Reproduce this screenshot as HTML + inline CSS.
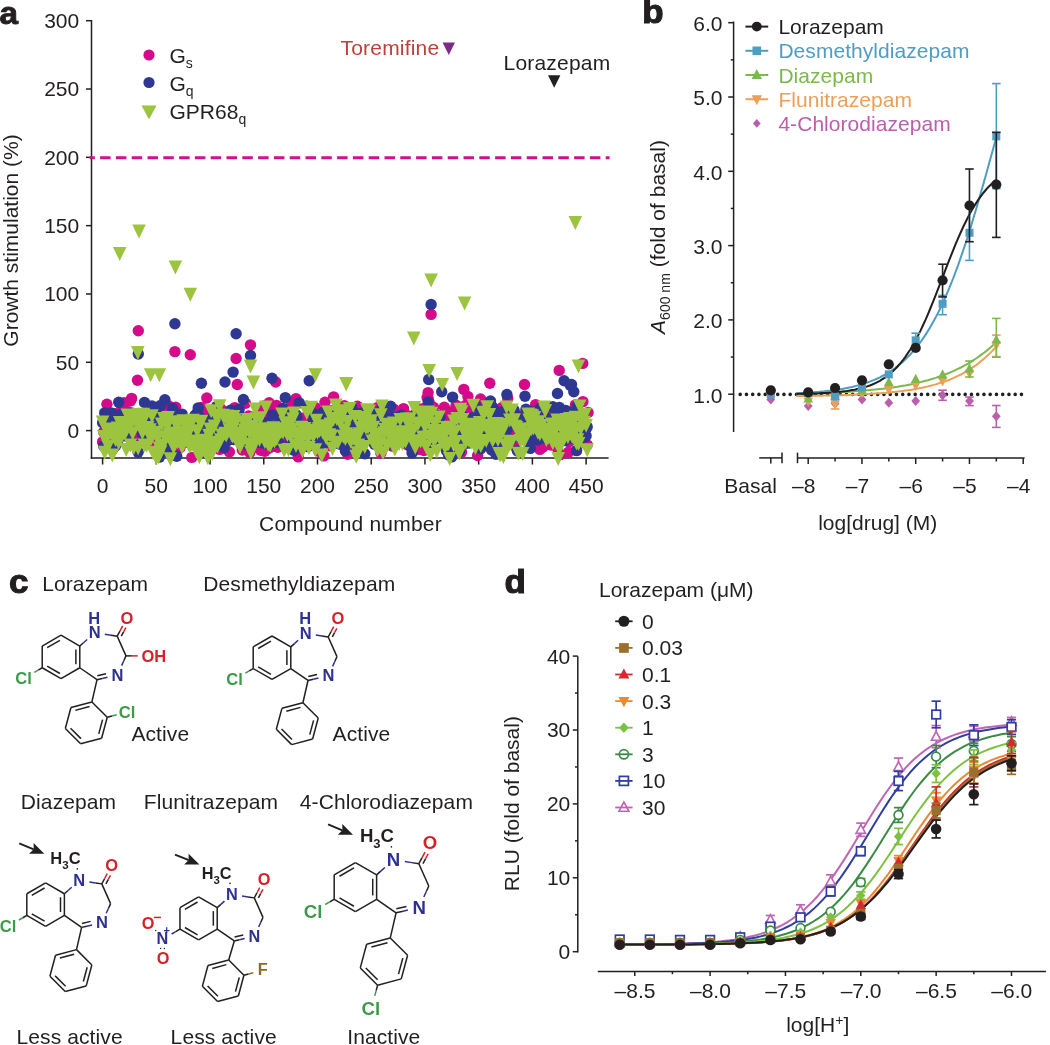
<!DOCTYPE html>
<html><head><meta charset="utf-8"><style>
html,body{margin:0;padding:0;background:#fff;}
svg{display:block;font-family:"Liberation Sans", sans-serif;will-change:transform;}
</style></head><body>
<svg width="1050" height="1045" viewBox="0 0 1050 1045">
<rect width="1050" height="1045" fill="#fff"/>
<text x="-0.6" y="23.5" font-size="32" text-anchor="start" fill="#231f20" font-weight="bold" stroke="#231f20" stroke-width="0.9" transform="scale(1.04,1)">a</text>
<line x1="91.50" y1="20.00" x2="91.50" y2="458.75" stroke="#231f20" stroke-width="1.5" />
<line x1="90.75" y1="458.00" x2="608.60" y2="458.00" stroke="#231f20" stroke-width="1.5" />
<line x1="86.00" y1="430.60" x2="91.50" y2="430.60" stroke="#231f20" stroke-width="1.5" />
<text x="79.2" y="438.0" font-size="21" text-anchor="end" fill="#231f20" font-weight="normal" >0</text>
<line x1="86.00" y1="362.29" x2="91.50" y2="362.29" stroke="#231f20" stroke-width="1.5" />
<text x="79.2" y="369.7" font-size="21" text-anchor="end" fill="#231f20" font-weight="normal" >50</text>
<line x1="86.00" y1="293.97" x2="91.50" y2="293.97" stroke="#231f20" stroke-width="1.5" />
<text x="79.2" y="301.4" font-size="21" text-anchor="end" fill="#231f20" font-weight="normal" >100</text>
<line x1="86.00" y1="225.66" x2="91.50" y2="225.66" stroke="#231f20" stroke-width="1.5" />
<text x="79.2" y="233.1" font-size="21" text-anchor="end" fill="#231f20" font-weight="normal" >150</text>
<line x1="86.00" y1="157.34" x2="91.50" y2="157.34" stroke="#231f20" stroke-width="1.5" />
<text x="79.2" y="164.7" font-size="21" text-anchor="end" fill="#231f20" font-weight="normal" >200</text>
<line x1="86.00" y1="89.02" x2="91.50" y2="89.02" stroke="#231f20" stroke-width="1.5" />
<text x="79.2" y="96.4" font-size="21" text-anchor="end" fill="#231f20" font-weight="normal" >250</text>
<line x1="86.00" y1="20.71" x2="91.50" y2="20.71" stroke="#231f20" stroke-width="1.5" />
<text x="79.2" y="28.1" font-size="21" text-anchor="end" fill="#231f20" font-weight="normal" >300</text>
<line x1="102.60" y1="458.00" x2="102.60" y2="464.50" stroke="#231f20" stroke-width="1.5" />
<text x="102.6" y="492.8" font-size="21" text-anchor="middle" fill="#231f20" font-weight="normal" >0</text>
<line x1="156.32" y1="458.00" x2="156.32" y2="464.50" stroke="#231f20" stroke-width="1.5" />
<text x="156.3" y="492.8" font-size="21" text-anchor="middle" fill="#231f20" font-weight="normal" >50</text>
<line x1="210.05" y1="458.00" x2="210.05" y2="464.50" stroke="#231f20" stroke-width="1.5" />
<text x="210.1" y="492.8" font-size="21" text-anchor="middle" fill="#231f20" font-weight="normal" >100</text>
<line x1="263.77" y1="458.00" x2="263.77" y2="464.50" stroke="#231f20" stroke-width="1.5" />
<text x="263.8" y="492.8" font-size="21" text-anchor="middle" fill="#231f20" font-weight="normal" >150</text>
<line x1="317.50" y1="458.00" x2="317.50" y2="464.50" stroke="#231f20" stroke-width="1.5" />
<text x="317.5" y="492.8" font-size="21" text-anchor="middle" fill="#231f20" font-weight="normal" >200</text>
<line x1="371.23" y1="458.00" x2="371.23" y2="464.50" stroke="#231f20" stroke-width="1.5" />
<text x="371.2" y="492.8" font-size="21" text-anchor="middle" fill="#231f20" font-weight="normal" >250</text>
<line x1="424.95" y1="458.00" x2="424.95" y2="464.50" stroke="#231f20" stroke-width="1.5" />
<text x="425.0" y="492.8" font-size="21" text-anchor="middle" fill="#231f20" font-weight="normal" >300</text>
<line x1="478.67" y1="458.00" x2="478.67" y2="464.50" stroke="#231f20" stroke-width="1.5" />
<text x="478.7" y="492.8" font-size="21" text-anchor="middle" fill="#231f20" font-weight="normal" >350</text>
<line x1="532.40" y1="458.00" x2="532.40" y2="464.50" stroke="#231f20" stroke-width="1.5" />
<text x="532.4" y="492.8" font-size="21" text-anchor="middle" fill="#231f20" font-weight="normal" >400</text>
<line x1="586.12" y1="458.00" x2="586.12" y2="464.50" stroke="#231f20" stroke-width="1.5" />
<text x="586.1" y="492.8" font-size="21" text-anchor="middle" fill="#231f20" font-weight="normal" >450</text>
<text x="350.5" y="530.5" font-size="21" text-anchor="middle" fill="#231f20" font-weight="normal" letter-spacing="0.2">Compound number</text>
<text x="0.0" y="0.0" font-size="21" text-anchor="middle" fill="#231f20" font-weight="normal" transform="translate(17.9,240.5) rotate(-90)">Growth stimulation (%)</text>
<line x1="89.70" y1="157.80" x2="609.60" y2="157.80" stroke="#cf1190" stroke-width="3" stroke-dasharray="10.5 5.3" stroke-dashoffset="5.4"/>
<g fill="#d40a8a"><circle cx="102.6" cy="441.9" r="5.7"/><circle cx="103.7" cy="432.1" r="5.7"/><circle cx="104.7" cy="418.6" r="5.7"/><circle cx="105.8" cy="442.8" r="5.7"/><circle cx="106.9" cy="404.2" r="5.7"/><circle cx="108.0" cy="428.9" r="5.7"/><circle cx="109.0" cy="440.7" r="5.7"/><circle cx="110.1" cy="429.8" r="5.7"/><circle cx="111.2" cy="415.7" r="5.7"/><circle cx="112.3" cy="449.6" r="5.7"/><circle cx="113.3" cy="427.5" r="5.7"/><circle cx="114.4" cy="435.8" r="5.7"/><circle cx="115.5" cy="413.6" r="5.7"/><circle cx="116.6" cy="416.1" r="5.7"/><circle cx="117.6" cy="423.7" r="5.7"/><circle cx="118.7" cy="436.2" r="5.7"/><circle cx="119.8" cy="415.8" r="5.7"/><circle cx="120.9" cy="433.4" r="5.7"/><circle cx="121.9" cy="407.9" r="5.7"/><circle cx="123.0" cy="435.8" r="5.7"/><circle cx="124.1" cy="402.7" r="5.7"/><circle cx="125.2" cy="418.2" r="5.7"/><circle cx="126.2" cy="422.6" r="5.7"/><circle cx="127.3" cy="430.6" r="5.7"/><circle cx="128.4" cy="411.8" r="5.7"/><circle cx="129.5" cy="415.6" r="5.7"/><circle cx="130.5" cy="400.9" r="5.7"/><circle cx="131.6" cy="398.4" r="5.7"/><circle cx="132.7" cy="413.2" r="5.7"/><circle cx="133.8" cy="414.9" r="5.7"/><circle cx="134.8" cy="426.7" r="5.7"/><circle cx="135.9" cy="415.4" r="5.7"/><circle cx="137.0" cy="435.5" r="5.7"/><circle cx="138.1" cy="429.1" r="5.7"/><circle cx="139.1" cy="421.9" r="5.7"/><circle cx="140.2" cy="438.9" r="5.7"/><circle cx="141.3" cy="427.3" r="5.7"/><circle cx="142.4" cy="437.7" r="5.7"/><circle cx="143.4" cy="416.7" r="5.7"/><circle cx="144.5" cy="426.3" r="5.7"/><circle cx="145.6" cy="431.6" r="5.7"/><circle cx="146.7" cy="416.2" r="5.7"/><circle cx="147.7" cy="433.5" r="5.7"/><circle cx="148.8" cy="429.7" r="5.7"/><circle cx="149.9" cy="429.7" r="5.7"/><circle cx="151.0" cy="413.4" r="5.7"/><circle cx="152.0" cy="443.8" r="5.7"/><circle cx="153.1" cy="427.6" r="5.7"/><circle cx="154.2" cy="422.8" r="5.7"/><circle cx="155.3" cy="435.8" r="5.7"/><circle cx="156.3" cy="447.1" r="5.7"/><circle cx="157.4" cy="409.8" r="5.7"/><circle cx="158.5" cy="454.4" r="5.7"/><circle cx="159.5" cy="417.0" r="5.7"/><circle cx="160.6" cy="408.5" r="5.7"/><circle cx="161.7" cy="446.1" r="5.7"/><circle cx="162.8" cy="438.6" r="5.7"/><circle cx="163.8" cy="441.4" r="5.7"/><circle cx="164.9" cy="415.7" r="5.7"/><circle cx="166.0" cy="427.0" r="5.7"/><circle cx="167.1" cy="443.1" r="5.7"/><circle cx="168.1" cy="405.5" r="5.7"/><circle cx="169.2" cy="421.7" r="5.7"/><circle cx="170.3" cy="430.2" r="5.7"/><circle cx="171.4" cy="445.4" r="5.7"/><circle cx="172.4" cy="431.6" r="5.7"/><circle cx="173.5" cy="417.2" r="5.7"/><circle cx="174.6" cy="452.0" r="5.7"/><circle cx="175.7" cy="407.2" r="5.7"/><circle cx="176.7" cy="414.7" r="5.7"/><circle cx="177.8" cy="434.3" r="5.7"/><circle cx="178.9" cy="414.6" r="5.7"/><circle cx="180.0" cy="447.8" r="5.7"/><circle cx="181.0" cy="416.9" r="5.7"/><circle cx="182.1" cy="422.0" r="5.7"/><circle cx="183.2" cy="436.5" r="5.7"/><circle cx="184.3" cy="426.8" r="5.7"/><circle cx="185.3" cy="422.4" r="5.7"/><circle cx="186.4" cy="442.3" r="5.7"/><circle cx="187.5" cy="424.3" r="5.7"/><circle cx="188.6" cy="420.3" r="5.7"/><circle cx="189.6" cy="421.9" r="5.7"/><circle cx="190.7" cy="438.8" r="5.7"/><circle cx="191.8" cy="457.4" r="5.7"/><circle cx="192.9" cy="433.6" r="5.7"/><circle cx="193.9" cy="424.1" r="5.7"/><circle cx="195.0" cy="426.9" r="5.7"/><circle cx="196.1" cy="440.8" r="5.7"/><circle cx="197.2" cy="444.1" r="5.7"/><circle cx="198.2" cy="428.4" r="5.7"/><circle cx="199.3" cy="414.8" r="5.7"/><circle cx="200.4" cy="446.4" r="5.7"/><circle cx="201.5" cy="407.4" r="5.7"/><circle cx="202.5" cy="430.4" r="5.7"/><circle cx="203.6" cy="429.6" r="5.7"/><circle cx="204.7" cy="442.0" r="5.7"/><circle cx="205.8" cy="448.7" r="5.7"/><circle cx="206.8" cy="398.0" r="5.7"/><circle cx="207.9" cy="412.3" r="5.7"/><circle cx="209.0" cy="432.4" r="5.7"/><circle cx="210.1" cy="423.3" r="5.7"/><circle cx="211.1" cy="433.1" r="5.7"/><circle cx="212.2" cy="420.2" r="5.7"/><circle cx="213.3" cy="427.4" r="5.7"/><circle cx="214.3" cy="410.1" r="5.7"/><circle cx="215.4" cy="427.0" r="5.7"/><circle cx="216.5" cy="430.6" r="5.7"/><circle cx="217.6" cy="437.9" r="5.7"/><circle cx="218.6" cy="430.2" r="5.7"/><circle cx="219.7" cy="449.4" r="5.7"/><circle cx="220.8" cy="408.8" r="5.7"/><circle cx="221.9" cy="429.2" r="5.7"/><circle cx="222.9" cy="427.7" r="5.7"/><circle cx="224.0" cy="428.3" r="5.7"/><circle cx="225.1" cy="439.8" r="5.7"/><circle cx="226.2" cy="429.8" r="5.7"/><circle cx="227.2" cy="433.4" r="5.7"/><circle cx="228.3" cy="415.0" r="5.7"/><circle cx="229.4" cy="452.0" r="5.7"/><circle cx="230.5" cy="418.3" r="5.7"/><circle cx="231.5" cy="428.4" r="5.7"/><circle cx="232.6" cy="421.8" r="5.7"/><circle cx="233.7" cy="436.3" r="5.7"/><circle cx="234.8" cy="407.6" r="5.7"/><circle cx="235.8" cy="413.7" r="5.7"/><circle cx="236.9" cy="439.5" r="5.7"/><circle cx="238.0" cy="415.2" r="5.7"/><circle cx="239.1" cy="419.7" r="5.7"/><circle cx="240.1" cy="438.0" r="5.7"/><circle cx="241.2" cy="419.0" r="5.7"/><circle cx="242.3" cy="450.0" r="5.7"/><circle cx="243.4" cy="437.4" r="5.7"/><circle cx="244.4" cy="419.6" r="5.7"/><circle cx="245.5" cy="403.2" r="5.7"/><circle cx="246.6" cy="418.1" r="5.7"/><circle cx="247.7" cy="432.0" r="5.7"/><circle cx="248.7" cy="416.0" r="5.7"/><circle cx="249.8" cy="452.5" r="5.7"/><circle cx="250.9" cy="448.1" r="5.7"/><circle cx="252.0" cy="425.5" r="5.7"/><circle cx="253.0" cy="422.2" r="5.7"/><circle cx="254.1" cy="430.4" r="5.7"/><circle cx="255.2" cy="421.4" r="5.7"/><circle cx="256.3" cy="419.7" r="5.7"/><circle cx="257.3" cy="447.7" r="5.7"/><circle cx="258.4" cy="411.6" r="5.7"/><circle cx="259.5" cy="426.9" r="5.7"/><circle cx="260.6" cy="450.2" r="5.7"/><circle cx="261.6" cy="426.1" r="5.7"/><circle cx="262.7" cy="417.4" r="5.7"/><circle cx="263.8" cy="405.9" r="5.7"/><circle cx="264.8" cy="451.2" r="5.7"/><circle cx="265.9" cy="438.3" r="5.7"/><circle cx="267.0" cy="427.8" r="5.7"/><circle cx="268.1" cy="448.8" r="5.7"/><circle cx="269.1" cy="402.7" r="5.7"/><circle cx="270.2" cy="447.1" r="5.7"/><circle cx="271.3" cy="426.0" r="5.7"/><circle cx="272.4" cy="412.2" r="5.7"/><circle cx="273.4" cy="437.4" r="5.7"/><circle cx="274.5" cy="431.4" r="5.7"/><circle cx="275.6" cy="440.1" r="5.7"/><circle cx="276.7" cy="405.5" r="5.7"/><circle cx="277.7" cy="447.2" r="5.7"/><circle cx="278.8" cy="441.9" r="5.7"/><circle cx="279.9" cy="411.3" r="5.7"/><circle cx="281.0" cy="429.6" r="5.7"/><circle cx="282.0" cy="440.6" r="5.7"/><circle cx="283.1" cy="428.8" r="5.7"/><circle cx="284.2" cy="423.1" r="5.7"/><circle cx="285.3" cy="438.4" r="5.7"/><circle cx="286.3" cy="416.9" r="5.7"/><circle cx="287.4" cy="411.2" r="5.7"/><circle cx="288.5" cy="411.7" r="5.7"/><circle cx="289.6" cy="428.2" r="5.7"/><circle cx="290.6" cy="435.0" r="5.7"/><circle cx="291.7" cy="403.9" r="5.7"/><circle cx="292.8" cy="425.0" r="5.7"/><circle cx="293.9" cy="406.1" r="5.7"/><circle cx="294.9" cy="425.2" r="5.7"/><circle cx="296.0" cy="398.6" r="5.7"/><circle cx="297.1" cy="418.5" r="5.7"/><circle cx="298.2" cy="456.9" r="5.7"/><circle cx="299.2" cy="440.3" r="5.7"/><circle cx="300.3" cy="430.5" r="5.7"/><circle cx="301.4" cy="435.7" r="5.7"/><circle cx="302.5" cy="432.1" r="5.7"/><circle cx="303.5" cy="418.0" r="5.7"/><circle cx="304.6" cy="437.5" r="5.7"/><circle cx="305.7" cy="441.7" r="5.7"/><circle cx="306.8" cy="435.2" r="5.7"/><circle cx="307.8" cy="421.0" r="5.7"/><circle cx="308.9" cy="416.7" r="5.7"/><circle cx="310.0" cy="441.4" r="5.7"/><circle cx="311.1" cy="434.0" r="5.7"/><circle cx="312.1" cy="439.3" r="5.7"/><circle cx="313.2" cy="427.0" r="5.7"/><circle cx="314.3" cy="429.6" r="5.7"/><circle cx="315.4" cy="407.6" r="5.7"/><circle cx="316.4" cy="431.2" r="5.7"/><circle cx="317.5" cy="422.1" r="5.7"/><circle cx="318.6" cy="451.2" r="5.7"/><circle cx="319.6" cy="418.2" r="5.7"/><circle cx="320.7" cy="434.5" r="5.7"/><circle cx="321.8" cy="420.3" r="5.7"/><circle cx="322.9" cy="433.0" r="5.7"/><circle cx="323.9" cy="455.9" r="5.7"/><circle cx="325.0" cy="402.3" r="5.7"/><circle cx="326.1" cy="422.4" r="5.7"/><circle cx="327.2" cy="429.7" r="5.7"/><circle cx="328.2" cy="430.5" r="5.7"/><circle cx="329.3" cy="415.0" r="5.7"/><circle cx="330.4" cy="445.9" r="5.7"/><circle cx="331.5" cy="438.9" r="5.7"/><circle cx="332.5" cy="420.1" r="5.7"/><circle cx="333.6" cy="396.9" r="5.7"/><circle cx="334.7" cy="432.7" r="5.7"/><circle cx="335.8" cy="430.8" r="5.7"/><circle cx="336.8" cy="436.7" r="5.7"/><circle cx="337.9" cy="433.8" r="5.7"/><circle cx="339.0" cy="416.9" r="5.7"/><circle cx="340.1" cy="420.2" r="5.7"/><circle cx="341.1" cy="440.2" r="5.7"/><circle cx="342.2" cy="417.0" r="5.7"/><circle cx="343.3" cy="422.8" r="5.7"/><circle cx="344.4" cy="405.7" r="5.7"/><circle cx="345.4" cy="429.8" r="5.7"/><circle cx="346.5" cy="420.3" r="5.7"/><circle cx="347.6" cy="454.3" r="5.7"/><circle cx="348.7" cy="411.1" r="5.7"/><circle cx="349.7" cy="433.4" r="5.7"/><circle cx="350.8" cy="448.2" r="5.7"/><circle cx="351.9" cy="417.5" r="5.7"/><circle cx="353.0" cy="442.1" r="5.7"/><circle cx="354.0" cy="446.2" r="5.7"/><circle cx="355.1" cy="415.8" r="5.7"/><circle cx="356.2" cy="444.8" r="5.7"/><circle cx="357.3" cy="406.3" r="5.7"/><circle cx="358.3" cy="428.3" r="5.7"/><circle cx="359.4" cy="431.9" r="5.7"/><circle cx="360.5" cy="431.0" r="5.7"/><circle cx="361.6" cy="411.3" r="5.7"/><circle cx="362.6" cy="420.9" r="5.7"/><circle cx="363.7" cy="423.7" r="5.7"/><circle cx="364.8" cy="419.4" r="5.7"/><circle cx="365.9" cy="418.8" r="5.7"/><circle cx="366.9" cy="416.4" r="5.7"/><circle cx="368.0" cy="433.2" r="5.7"/><circle cx="369.1" cy="414.9" r="5.7"/><circle cx="370.2" cy="431.6" r="5.7"/><circle cx="371.2" cy="439.4" r="5.7"/><circle cx="372.3" cy="431.5" r="5.7"/><circle cx="373.4" cy="424.1" r="5.7"/><circle cx="374.4" cy="437.9" r="5.7"/><circle cx="375.5" cy="431.5" r="5.7"/><circle cx="376.6" cy="409.7" r="5.7"/><circle cx="377.7" cy="407.5" r="5.7"/><circle cx="378.7" cy="420.7" r="5.7"/><circle cx="379.8" cy="415.6" r="5.7"/><circle cx="380.9" cy="453.2" r="5.7"/><circle cx="382.0" cy="411.4" r="5.7"/><circle cx="383.0" cy="424.9" r="5.7"/><circle cx="384.1" cy="415.7" r="5.7"/><circle cx="385.2" cy="431.2" r="5.7"/><circle cx="386.3" cy="407.7" r="5.7"/><circle cx="387.3" cy="434.2" r="5.7"/><circle cx="388.4" cy="420.0" r="5.7"/><circle cx="389.5" cy="433.4" r="5.7"/><circle cx="390.6" cy="411.0" r="5.7"/><circle cx="391.6" cy="414.2" r="5.7"/><circle cx="392.7" cy="446.3" r="5.7"/><circle cx="393.8" cy="409.1" r="5.7"/><circle cx="394.9" cy="416.6" r="5.7"/><circle cx="395.9" cy="411.9" r="5.7"/><circle cx="397.0" cy="434.9" r="5.7"/><circle cx="398.1" cy="422.4" r="5.7"/><circle cx="399.2" cy="433.6" r="5.7"/><circle cx="400.2" cy="413.2" r="5.7"/><circle cx="401.3" cy="440.9" r="5.7"/><circle cx="402.4" cy="416.0" r="5.7"/><circle cx="403.5" cy="408.6" r="5.7"/><circle cx="404.5" cy="437.2" r="5.7"/><circle cx="405.6" cy="421.3" r="5.7"/><circle cx="406.7" cy="444.4" r="5.7"/><circle cx="407.8" cy="415.6" r="5.7"/><circle cx="408.8" cy="419.9" r="5.7"/><circle cx="409.9" cy="429.6" r="5.7"/><circle cx="411.0" cy="432.0" r="5.7"/><circle cx="412.1" cy="422.5" r="5.7"/><circle cx="413.1" cy="417.1" r="5.7"/><circle cx="414.2" cy="442.3" r="5.7"/><circle cx="415.3" cy="427.9" r="5.7"/><circle cx="416.4" cy="413.0" r="5.7"/><circle cx="417.4" cy="408.6" r="5.7"/><circle cx="418.5" cy="449.2" r="5.7"/><circle cx="419.6" cy="441.9" r="5.7"/><circle cx="420.7" cy="411.0" r="5.7"/><circle cx="421.7" cy="412.3" r="5.7"/><circle cx="422.8" cy="408.7" r="5.7"/><circle cx="423.9" cy="450.5" r="5.7"/><circle cx="425.0" cy="431.6" r="5.7"/><circle cx="426.0" cy="443.9" r="5.7"/><circle cx="427.1" cy="397.5" r="5.7"/><circle cx="428.2" cy="398.9" r="5.7"/><circle cx="429.2" cy="402.9" r="5.7"/><circle cx="430.3" cy="435.1" r="5.7"/><circle cx="431.4" cy="417.5" r="5.7"/><circle cx="432.5" cy="407.4" r="5.7"/><circle cx="433.5" cy="407.3" r="5.7"/><circle cx="434.6" cy="430.3" r="5.7"/><circle cx="435.7" cy="423.4" r="5.7"/><circle cx="436.8" cy="435.0" r="5.7"/><circle cx="437.8" cy="438.6" r="5.7"/><circle cx="438.9" cy="427.5" r="5.7"/><circle cx="440.0" cy="416.7" r="5.7"/><circle cx="441.1" cy="428.7" r="5.7"/><circle cx="442.1" cy="436.3" r="5.7"/><circle cx="443.2" cy="428.1" r="5.7"/><circle cx="444.3" cy="407.2" r="5.7"/><circle cx="445.4" cy="422.5" r="5.7"/><circle cx="446.4" cy="424.0" r="5.7"/><circle cx="447.5" cy="411.0" r="5.7"/><circle cx="448.6" cy="417.2" r="5.7"/><circle cx="449.7" cy="441.6" r="5.7"/><circle cx="450.7" cy="412.9" r="5.7"/><circle cx="451.8" cy="429.6" r="5.7"/><circle cx="452.9" cy="443.5" r="5.7"/><circle cx="454.0" cy="429.5" r="5.7"/><circle cx="455.0" cy="414.7" r="5.7"/><circle cx="456.1" cy="405.2" r="5.7"/><circle cx="457.2" cy="426.8" r="5.7"/><circle cx="458.3" cy="424.7" r="5.7"/><circle cx="459.3" cy="439.0" r="5.7"/><circle cx="460.4" cy="413.4" r="5.7"/><circle cx="461.5" cy="452.1" r="5.7"/><circle cx="462.6" cy="411.1" r="5.7"/><circle cx="463.6" cy="424.7" r="5.7"/><circle cx="464.7" cy="413.6" r="5.7"/><circle cx="465.8" cy="405.3" r="5.7"/><circle cx="466.9" cy="417.4" r="5.7"/><circle cx="467.9" cy="396.5" r="5.7"/><circle cx="469.0" cy="410.1" r="5.7"/><circle cx="470.1" cy="423.5" r="5.7"/><circle cx="471.2" cy="430.6" r="5.7"/><circle cx="472.2" cy="433.4" r="5.7"/><circle cx="473.3" cy="406.7" r="5.7"/><circle cx="474.4" cy="419.0" r="5.7"/><circle cx="475.5" cy="436.8" r="5.7"/><circle cx="476.5" cy="426.8" r="5.7"/><circle cx="477.6" cy="455.5" r="5.7"/><circle cx="478.7" cy="423.2" r="5.7"/><circle cx="479.7" cy="433.9" r="5.7"/><circle cx="480.8" cy="437.5" r="5.7"/><circle cx="481.9" cy="410.7" r="5.7"/><circle cx="483.0" cy="423.6" r="5.7"/><circle cx="484.0" cy="434.1" r="5.7"/><circle cx="485.1" cy="404.2" r="5.7"/><circle cx="486.2" cy="429.2" r="5.7"/><circle cx="487.3" cy="431.7" r="5.7"/><circle cx="488.3" cy="415.6" r="5.7"/><circle cx="489.4" cy="435.4" r="5.7"/><circle cx="490.5" cy="413.8" r="5.7"/><circle cx="491.6" cy="425.4" r="5.7"/><circle cx="492.6" cy="448.7" r="5.7"/><circle cx="493.7" cy="425.1" r="5.7"/><circle cx="494.8" cy="437.9" r="5.7"/><circle cx="495.9" cy="441.3" r="5.7"/><circle cx="496.9" cy="431.8" r="5.7"/><circle cx="498.0" cy="427.7" r="5.7"/><circle cx="499.1" cy="432.9" r="5.7"/><circle cx="500.2" cy="416.5" r="5.7"/><circle cx="501.2" cy="423.7" r="5.7"/><circle cx="502.3" cy="407.4" r="5.7"/><circle cx="503.4" cy="442.9" r="5.7"/><circle cx="504.5" cy="437.4" r="5.7"/><circle cx="505.5" cy="409.2" r="5.7"/><circle cx="506.6" cy="419.2" r="5.7"/><circle cx="507.7" cy="398.4" r="5.7"/><circle cx="508.8" cy="432.3" r="5.7"/><circle cx="509.8" cy="418.0" r="5.7"/><circle cx="510.9" cy="422.0" r="5.7"/><circle cx="512.0" cy="426.8" r="5.7"/><circle cx="513.1" cy="411.8" r="5.7"/><circle cx="514.1" cy="413.9" r="5.7"/><circle cx="515.2" cy="446.1" r="5.7"/><circle cx="516.3" cy="431.4" r="5.7"/><circle cx="517.4" cy="425.9" r="5.7"/><circle cx="518.4" cy="417.5" r="5.7"/><circle cx="519.5" cy="418.9" r="5.7"/><circle cx="520.6" cy="419.3" r="5.7"/><circle cx="521.7" cy="418.0" r="5.7"/><circle cx="522.7" cy="415.4" r="5.7"/><circle cx="523.8" cy="423.8" r="5.7"/><circle cx="524.9" cy="428.4" r="5.7"/><circle cx="526.0" cy="415.8" r="5.7"/><circle cx="527.0" cy="411.7" r="5.7"/><circle cx="528.1" cy="429.0" r="5.7"/><circle cx="529.2" cy="413.1" r="5.7"/><circle cx="530.3" cy="435.1" r="5.7"/><circle cx="531.3" cy="442.6" r="5.7"/><circle cx="532.4" cy="412.8" r="5.7"/><circle cx="533.5" cy="420.4" r="5.7"/><circle cx="534.5" cy="410.2" r="5.7"/><circle cx="535.6" cy="404.6" r="5.7"/><circle cx="536.7" cy="432.2" r="5.7"/><circle cx="537.8" cy="429.8" r="5.7"/><circle cx="538.8" cy="422.5" r="5.7"/><circle cx="539.9" cy="449.4" r="5.7"/><circle cx="541.0" cy="435.7" r="5.7"/><circle cx="542.1" cy="413.2" r="5.7"/><circle cx="543.1" cy="446.9" r="5.7"/><circle cx="544.2" cy="431.0" r="5.7"/><circle cx="545.3" cy="411.0" r="5.7"/><circle cx="546.4" cy="429.7" r="5.7"/><circle cx="547.4" cy="418.9" r="5.7"/><circle cx="548.5" cy="428.0" r="5.7"/><circle cx="549.6" cy="411.9" r="5.7"/><circle cx="550.7" cy="428.0" r="5.7"/><circle cx="551.7" cy="445.1" r="5.7"/><circle cx="552.8" cy="429.2" r="5.7"/><circle cx="553.9" cy="417.6" r="5.7"/><circle cx="555.0" cy="428.4" r="5.7"/><circle cx="556.0" cy="421.3" r="5.7"/><circle cx="557.1" cy="447.9" r="5.7"/><circle cx="558.2" cy="426.9" r="5.7"/><circle cx="559.3" cy="420.7" r="5.7"/><circle cx="560.3" cy="454.6" r="5.7"/><circle cx="561.4" cy="429.1" r="5.7"/><circle cx="562.5" cy="419.1" r="5.7"/><circle cx="563.6" cy="432.7" r="5.7"/><circle cx="564.6" cy="417.2" r="5.7"/><circle cx="565.7" cy="415.0" r="5.7"/><circle cx="566.8" cy="419.1" r="5.7"/><circle cx="567.9" cy="414.6" r="5.7"/><circle cx="568.9" cy="441.7" r="5.7"/><circle cx="570.0" cy="435.2" r="5.7"/><circle cx="571.1" cy="419.8" r="5.7"/><circle cx="572.2" cy="438.3" r="5.7"/><circle cx="573.2" cy="415.8" r="5.7"/><circle cx="574.3" cy="411.4" r="5.7"/><circle cx="575.4" cy="404.9" r="5.7"/><circle cx="576.5" cy="450.6" r="5.7"/><circle cx="577.5" cy="411.5" r="5.7"/><circle cx="578.6" cy="438.4" r="5.7"/><circle cx="579.7" cy="417.6" r="5.7"/><circle cx="580.8" cy="415.4" r="5.7"/><circle cx="581.8" cy="427.2" r="5.7"/><circle cx="582.9" cy="429.8" r="5.7"/><circle cx="584.0" cy="426.3" r="5.7"/><circle cx="585.1" cy="429.4" r="5.7"/><circle cx="586.1" cy="425.0" r="5.7"/><circle cx="587.2" cy="444.9" r="5.7"/><circle cx="138.3" cy="330.8" r="5.7"/><circle cx="137.5" cy="380.3" r="5.7"/><circle cx="174.9" cy="351.6" r="5.7"/><circle cx="190.3" cy="354.8" r="5.7"/><circle cx="250.5" cy="344.9" r="5.7"/><circle cx="236.1" cy="358.5" r="5.7"/><circle cx="275.7" cy="382.0" r="5.7"/><circle cx="237.3" cy="384.5" r="5.7"/><circle cx="431.1" cy="314.4" r="5.7"/><circle cx="582.7" cy="363.4" r="5.7"/><circle cx="559.2" cy="370.4" r="5.7"/><circle cx="489.8" cy="383.3" r="5.7"/><circle cx="524.5" cy="384.5" r="5.7"/><circle cx="463.8" cy="389.4" r="5.7"/><circle cx="480.6" cy="399.0" r="5.7"/><circle cx="428.1" cy="392.6" r="5.7"/><circle cx="582.9" cy="401.6" r="5.7"/><circle cx="588.1" cy="412.5" r="5.7"/><circle cx="568.4" cy="452.3" r="5.7"/></g>
<g fill="#2e3791"><circle cx="102.6" cy="422.7" r="5.7"/><circle cx="103.7" cy="446.0" r="5.7"/><circle cx="104.7" cy="412.9" r="5.7"/><circle cx="105.8" cy="418.2" r="5.7"/><circle cx="106.9" cy="414.4" r="5.7"/><circle cx="108.0" cy="431.8" r="5.7"/><circle cx="109.0" cy="426.6" r="5.7"/><circle cx="110.1" cy="428.7" r="5.7"/><circle cx="111.2" cy="412.9" r="5.7"/><circle cx="112.3" cy="418.3" r="5.7"/><circle cx="113.3" cy="448.0" r="5.7"/><circle cx="114.4" cy="424.9" r="5.7"/><circle cx="115.5" cy="445.9" r="5.7"/><circle cx="116.6" cy="429.1" r="5.7"/><circle cx="117.6" cy="441.6" r="5.7"/><circle cx="118.7" cy="402.3" r="5.7"/><circle cx="119.8" cy="427.8" r="5.7"/><circle cx="120.9" cy="414.2" r="5.7"/><circle cx="121.9" cy="419.3" r="5.7"/><circle cx="123.0" cy="417.4" r="5.7"/><circle cx="124.1" cy="433.0" r="5.7"/><circle cx="125.2" cy="424.0" r="5.7"/><circle cx="126.2" cy="436.0" r="5.7"/><circle cx="127.3" cy="419.8" r="5.7"/><circle cx="128.4" cy="413.5" r="5.7"/><circle cx="129.5" cy="425.4" r="5.7"/><circle cx="130.5" cy="432.3" r="5.7"/><circle cx="131.6" cy="424.5" r="5.7"/><circle cx="132.7" cy="443.4" r="5.7"/><circle cx="133.8" cy="426.1" r="5.7"/><circle cx="134.8" cy="422.8" r="5.7"/><circle cx="135.9" cy="427.1" r="5.7"/><circle cx="137.0" cy="417.0" r="5.7"/><circle cx="138.1" cy="452.3" r="5.7"/><circle cx="139.1" cy="420.7" r="5.7"/><circle cx="140.2" cy="427.8" r="5.7"/><circle cx="141.3" cy="416.8" r="5.7"/><circle cx="142.4" cy="433.5" r="5.7"/><circle cx="143.4" cy="426.3" r="5.7"/><circle cx="144.5" cy="402.4" r="5.7"/><circle cx="145.6" cy="418.0" r="5.7"/><circle cx="146.7" cy="423.7" r="5.7"/><circle cx="147.7" cy="435.2" r="5.7"/><circle cx="148.8" cy="417.1" r="5.7"/><circle cx="149.9" cy="426.3" r="5.7"/><circle cx="151.0" cy="434.4" r="5.7"/><circle cx="152.0" cy="406.0" r="5.7"/><circle cx="153.1" cy="434.4" r="5.7"/><circle cx="154.2" cy="425.0" r="5.7"/><circle cx="155.3" cy="408.6" r="5.7"/><circle cx="156.3" cy="425.4" r="5.7"/><circle cx="157.4" cy="420.0" r="5.7"/><circle cx="158.5" cy="429.6" r="5.7"/><circle cx="159.5" cy="457.1" r="5.7"/><circle cx="160.6" cy="405.4" r="5.7"/><circle cx="161.7" cy="415.9" r="5.7"/><circle cx="162.8" cy="437.4" r="5.7"/><circle cx="163.8" cy="437.2" r="5.7"/><circle cx="164.9" cy="399.8" r="5.7"/><circle cx="166.0" cy="441.3" r="5.7"/><circle cx="167.1" cy="452.2" r="5.7"/><circle cx="168.1" cy="416.4" r="5.7"/><circle cx="169.2" cy="437.7" r="5.7"/><circle cx="170.3" cy="443.1" r="5.7"/><circle cx="171.4" cy="427.9" r="5.7"/><circle cx="172.4" cy="408.3" r="5.7"/><circle cx="173.5" cy="411.2" r="5.7"/><circle cx="174.6" cy="417.6" r="5.7"/><circle cx="175.7" cy="423.3" r="5.7"/><circle cx="176.7" cy="456.3" r="5.7"/><circle cx="177.8" cy="438.2" r="5.7"/><circle cx="178.9" cy="415.8" r="5.7"/><circle cx="180.0" cy="435.9" r="5.7"/><circle cx="181.0" cy="438.3" r="5.7"/><circle cx="182.1" cy="414.1" r="5.7"/><circle cx="183.2" cy="438.3" r="5.7"/><circle cx="184.3" cy="424.8" r="5.7"/><circle cx="185.3" cy="430.7" r="5.7"/><circle cx="186.4" cy="436.6" r="5.7"/><circle cx="187.5" cy="430.8" r="5.7"/><circle cx="188.6" cy="436.7" r="5.7"/><circle cx="189.6" cy="438.1" r="5.7"/><circle cx="190.7" cy="442.4" r="5.7"/><circle cx="191.8" cy="431.5" r="5.7"/><circle cx="192.9" cy="426.5" r="5.7"/><circle cx="193.9" cy="429.8" r="5.7"/><circle cx="195.0" cy="415.4" r="5.7"/><circle cx="196.1" cy="445.1" r="5.7"/><circle cx="197.2" cy="412.9" r="5.7"/><circle cx="198.2" cy="407.9" r="5.7"/><circle cx="199.3" cy="416.9" r="5.7"/><circle cx="200.4" cy="440.5" r="5.7"/><circle cx="201.5" cy="444.6" r="5.7"/><circle cx="202.5" cy="433.2" r="5.7"/><circle cx="203.6" cy="452.7" r="5.7"/><circle cx="204.7" cy="421.2" r="5.7"/><circle cx="205.8" cy="433.4" r="5.7"/><circle cx="206.8" cy="420.1" r="5.7"/><circle cx="207.9" cy="420.5" r="5.7"/><circle cx="209.0" cy="431.1" r="5.7"/><circle cx="210.1" cy="432.5" r="5.7"/><circle cx="211.1" cy="440.1" r="5.7"/><circle cx="212.2" cy="421.9" r="5.7"/><circle cx="213.3" cy="416.7" r="5.7"/><circle cx="214.3" cy="433.2" r="5.7"/><circle cx="215.4" cy="424.9" r="5.7"/><circle cx="216.5" cy="406.5" r="5.7"/><circle cx="217.6" cy="418.2" r="5.7"/><circle cx="218.6" cy="415.5" r="5.7"/><circle cx="219.7" cy="421.0" r="5.7"/><circle cx="220.8" cy="431.1" r="5.7"/><circle cx="221.9" cy="443.6" r="5.7"/><circle cx="222.9" cy="429.9" r="5.7"/><circle cx="224.0" cy="447.8" r="5.7"/><circle cx="225.1" cy="434.0" r="5.7"/><circle cx="226.2" cy="441.6" r="5.7"/><circle cx="227.2" cy="429.7" r="5.7"/><circle cx="228.3" cy="417.4" r="5.7"/><circle cx="229.4" cy="439.7" r="5.7"/><circle cx="230.5" cy="410.2" r="5.7"/><circle cx="231.5" cy="427.3" r="5.7"/><circle cx="232.6" cy="418.7" r="5.7"/><circle cx="233.7" cy="439.5" r="5.7"/><circle cx="234.8" cy="414.3" r="5.7"/><circle cx="235.8" cy="427.9" r="5.7"/><circle cx="236.9" cy="430.6" r="5.7"/><circle cx="238.0" cy="435.8" r="5.7"/><circle cx="239.1" cy="409.4" r="5.7"/><circle cx="240.1" cy="416.7" r="5.7"/><circle cx="241.2" cy="435.7" r="5.7"/><circle cx="242.3" cy="418.1" r="5.7"/><circle cx="243.4" cy="399.5" r="5.7"/><circle cx="244.4" cy="432.6" r="5.7"/><circle cx="245.5" cy="428.2" r="5.7"/><circle cx="246.6" cy="440.3" r="5.7"/><circle cx="247.7" cy="444.9" r="5.7"/><circle cx="248.7" cy="426.8" r="5.7"/><circle cx="249.8" cy="421.2" r="5.7"/><circle cx="250.9" cy="428.7" r="5.7"/><circle cx="252.0" cy="425.9" r="5.7"/><circle cx="253.0" cy="425.5" r="5.7"/><circle cx="254.1" cy="434.9" r="5.7"/><circle cx="255.2" cy="419.4" r="5.7"/><circle cx="256.3" cy="430.6" r="5.7"/><circle cx="257.3" cy="422.4" r="5.7"/><circle cx="258.4" cy="442.3" r="5.7"/><circle cx="259.5" cy="429.2" r="5.7"/><circle cx="260.6" cy="421.6" r="5.7"/><circle cx="261.6" cy="441.8" r="5.7"/><circle cx="262.7" cy="430.3" r="5.7"/><circle cx="263.8" cy="443.2" r="5.7"/><circle cx="264.8" cy="437.4" r="5.7"/><circle cx="265.9" cy="437.3" r="5.7"/><circle cx="267.0" cy="429.4" r="5.7"/><circle cx="268.1" cy="422.4" r="5.7"/><circle cx="269.1" cy="444.9" r="5.7"/><circle cx="270.2" cy="426.5" r="5.7"/><circle cx="271.3" cy="433.0" r="5.7"/><circle cx="272.4" cy="415.1" r="5.7"/><circle cx="273.4" cy="442.5" r="5.7"/><circle cx="274.5" cy="438.6" r="5.7"/><circle cx="275.6" cy="441.2" r="5.7"/><circle cx="276.7" cy="427.9" r="5.7"/><circle cx="277.7" cy="425.0" r="5.7"/><circle cx="278.8" cy="442.7" r="5.7"/><circle cx="279.9" cy="419.3" r="5.7"/><circle cx="281.0" cy="423.5" r="5.7"/><circle cx="282.0" cy="432.9" r="5.7"/><circle cx="283.1" cy="408.4" r="5.7"/><circle cx="284.2" cy="432.9" r="5.7"/><circle cx="285.3" cy="397.6" r="5.7"/><circle cx="286.3" cy="414.8" r="5.7"/><circle cx="287.4" cy="431.5" r="5.7"/><circle cx="288.5" cy="432.7" r="5.7"/><circle cx="289.6" cy="435.3" r="5.7"/><circle cx="290.6" cy="442.4" r="5.7"/><circle cx="291.7" cy="428.5" r="5.7"/><circle cx="292.8" cy="423.8" r="5.7"/><circle cx="293.9" cy="450.3" r="5.7"/><circle cx="294.9" cy="432.3" r="5.7"/><circle cx="296.0" cy="414.6" r="5.7"/><circle cx="297.1" cy="417.8" r="5.7"/><circle cx="298.2" cy="432.6" r="5.7"/><circle cx="299.2" cy="402.9" r="5.7"/><circle cx="300.3" cy="432.0" r="5.7"/><circle cx="301.4" cy="426.6" r="5.7"/><circle cx="302.5" cy="429.1" r="5.7"/><circle cx="303.5" cy="438.1" r="5.7"/><circle cx="304.6" cy="434.9" r="5.7"/><circle cx="305.7" cy="428.4" r="5.7"/><circle cx="306.8" cy="406.1" r="5.7"/><circle cx="307.8" cy="446.6" r="5.7"/><circle cx="308.9" cy="434.9" r="5.7"/><circle cx="310.0" cy="438.4" r="5.7"/><circle cx="311.1" cy="427.6" r="5.7"/><circle cx="312.1" cy="423.2" r="5.7"/><circle cx="313.2" cy="413.6" r="5.7"/><circle cx="314.3" cy="433.0" r="5.7"/><circle cx="315.4" cy="417.3" r="5.7"/><circle cx="316.4" cy="438.8" r="5.7"/><circle cx="317.5" cy="415.7" r="5.7"/><circle cx="318.6" cy="421.7" r="5.7"/><circle cx="319.6" cy="445.7" r="5.7"/><circle cx="320.7" cy="437.3" r="5.7"/><circle cx="321.8" cy="440.1" r="5.7"/><circle cx="322.9" cy="412.5" r="5.7"/><circle cx="323.9" cy="439.7" r="5.7"/><circle cx="325.0" cy="411.9" r="5.7"/><circle cx="326.1" cy="442.3" r="5.7"/><circle cx="327.2" cy="438.4" r="5.7"/><circle cx="328.2" cy="423.3" r="5.7"/><circle cx="329.3" cy="422.2" r="5.7"/><circle cx="330.4" cy="429.4" r="5.7"/><circle cx="331.5" cy="410.7" r="5.7"/><circle cx="332.5" cy="432.4" r="5.7"/><circle cx="333.6" cy="443.7" r="5.7"/><circle cx="334.7" cy="424.1" r="5.7"/><circle cx="335.8" cy="415.3" r="5.7"/><circle cx="336.8" cy="427.7" r="5.7"/><circle cx="337.9" cy="418.2" r="5.7"/><circle cx="339.0" cy="421.9" r="5.7"/><circle cx="340.1" cy="444.2" r="5.7"/><circle cx="341.1" cy="417.6" r="5.7"/><circle cx="342.2" cy="435.4" r="5.7"/><circle cx="343.3" cy="444.9" r="5.7"/><circle cx="344.4" cy="432.0" r="5.7"/><circle cx="345.4" cy="450.9" r="5.7"/><circle cx="346.5" cy="425.0" r="5.7"/><circle cx="347.6" cy="411.2" r="5.7"/><circle cx="348.7" cy="410.1" r="5.7"/><circle cx="349.7" cy="423.6" r="5.7"/><circle cx="350.8" cy="431.0" r="5.7"/><circle cx="351.9" cy="407.9" r="5.7"/><circle cx="353.0" cy="427.2" r="5.7"/><circle cx="354.0" cy="415.8" r="5.7"/><circle cx="355.1" cy="445.8" r="5.7"/><circle cx="356.2" cy="413.5" r="5.7"/><circle cx="357.3" cy="433.0" r="5.7"/><circle cx="358.3" cy="423.3" r="5.7"/><circle cx="359.4" cy="424.2" r="5.7"/><circle cx="360.5" cy="422.0" r="5.7"/><circle cx="361.6" cy="437.3" r="5.7"/><circle cx="362.6" cy="413.0" r="5.7"/><circle cx="363.7" cy="436.3" r="5.7"/><circle cx="364.8" cy="453.7" r="5.7"/><circle cx="365.9" cy="426.4" r="5.7"/><circle cx="366.9" cy="425.9" r="5.7"/><circle cx="368.0" cy="433.3" r="5.7"/><circle cx="369.1" cy="417.1" r="5.7"/><circle cx="370.2" cy="411.9" r="5.7"/><circle cx="371.2" cy="429.7" r="5.7"/><circle cx="372.3" cy="437.9" r="5.7"/><circle cx="373.4" cy="417.7" r="5.7"/><circle cx="374.4" cy="444.1" r="5.7"/><circle cx="375.5" cy="433.4" r="5.7"/><circle cx="376.6" cy="426.8" r="5.7"/><circle cx="377.7" cy="432.1" r="5.7"/><circle cx="378.7" cy="421.2" r="5.7"/><circle cx="379.8" cy="416.7" r="5.7"/><circle cx="380.9" cy="429.6" r="5.7"/><circle cx="382.0" cy="408.8" r="5.7"/><circle cx="383.0" cy="413.4" r="5.7"/><circle cx="384.1" cy="422.5" r="5.7"/><circle cx="385.2" cy="443.1" r="5.7"/><circle cx="386.3" cy="432.9" r="5.7"/><circle cx="387.3" cy="424.4" r="5.7"/><circle cx="388.4" cy="430.8" r="5.7"/><circle cx="389.5" cy="443.9" r="5.7"/><circle cx="390.6" cy="406.3" r="5.7"/><circle cx="391.6" cy="417.5" r="5.7"/><circle cx="392.7" cy="423.4" r="5.7"/><circle cx="393.8" cy="417.1" r="5.7"/><circle cx="394.9" cy="418.3" r="5.7"/><circle cx="395.9" cy="426.8" r="5.7"/><circle cx="397.0" cy="441.8" r="5.7"/><circle cx="398.1" cy="425.0" r="5.7"/><circle cx="399.2" cy="435.4" r="5.7"/><circle cx="400.2" cy="431.6" r="5.7"/><circle cx="401.3" cy="415.2" r="5.7"/><circle cx="402.4" cy="429.3" r="5.7"/><circle cx="403.5" cy="433.8" r="5.7"/><circle cx="404.5" cy="425.1" r="5.7"/><circle cx="405.6" cy="423.2" r="5.7"/><circle cx="406.7" cy="422.0" r="5.7"/><circle cx="407.8" cy="443.5" r="5.7"/><circle cx="408.8" cy="424.0" r="5.7"/><circle cx="409.9" cy="424.9" r="5.7"/><circle cx="411.0" cy="447.5" r="5.7"/><circle cx="412.1" cy="453.1" r="5.7"/><circle cx="413.1" cy="429.9" r="5.7"/><circle cx="414.2" cy="415.5" r="5.7"/><circle cx="415.3" cy="437.9" r="5.7"/><circle cx="416.4" cy="426.4" r="5.7"/><circle cx="417.4" cy="417.4" r="5.7"/><circle cx="418.5" cy="429.3" r="5.7"/><circle cx="419.6" cy="415.2" r="5.7"/><circle cx="420.7" cy="437.7" r="5.7"/><circle cx="421.7" cy="414.3" r="5.7"/><circle cx="422.8" cy="429.2" r="5.7"/><circle cx="423.9" cy="417.2" r="5.7"/><circle cx="425.0" cy="419.0" r="5.7"/><circle cx="426.0" cy="437.6" r="5.7"/><circle cx="427.1" cy="437.7" r="5.7"/><circle cx="428.2" cy="402.0" r="5.7"/><circle cx="429.2" cy="444.7" r="5.7"/><circle cx="430.3" cy="431.8" r="5.7"/><circle cx="431.4" cy="444.8" r="5.7"/><circle cx="432.5" cy="434.9" r="5.7"/><circle cx="433.5" cy="423.6" r="5.7"/><circle cx="434.6" cy="429.5" r="5.7"/><circle cx="435.7" cy="430.5" r="5.7"/><circle cx="436.8" cy="438.5" r="5.7"/><circle cx="437.8" cy="415.5" r="5.7"/><circle cx="438.9" cy="423.1" r="5.7"/><circle cx="440.0" cy="417.3" r="5.7"/><circle cx="441.1" cy="438.5" r="5.7"/><circle cx="442.1" cy="433.0" r="5.7"/><circle cx="443.2" cy="431.5" r="5.7"/><circle cx="444.3" cy="432.5" r="5.7"/><circle cx="445.4" cy="442.8" r="5.7"/><circle cx="446.4" cy="450.6" r="5.7"/><circle cx="447.5" cy="450.7" r="5.7"/><circle cx="448.6" cy="455.0" r="5.7"/><circle cx="449.7" cy="430.6" r="5.7"/><circle cx="450.7" cy="429.8" r="5.7"/><circle cx="451.8" cy="456.9" r="5.7"/><circle cx="452.9" cy="427.7" r="5.7"/><circle cx="454.0" cy="430.7" r="5.7"/><circle cx="455.0" cy="441.6" r="5.7"/><circle cx="456.1" cy="421.1" r="5.7"/><circle cx="457.2" cy="432.6" r="5.7"/><circle cx="458.3" cy="422.7" r="5.7"/><circle cx="459.3" cy="451.5" r="5.7"/><circle cx="460.4" cy="423.9" r="5.7"/><circle cx="461.5" cy="439.9" r="5.7"/><circle cx="462.6" cy="415.8" r="5.7"/><circle cx="463.6" cy="428.0" r="5.7"/><circle cx="464.7" cy="430.1" r="5.7"/><circle cx="465.8" cy="443.2" r="5.7"/><circle cx="466.9" cy="431.5" r="5.7"/><circle cx="467.9" cy="422.2" r="5.7"/><circle cx="469.0" cy="443.0" r="5.7"/><circle cx="470.1" cy="436.6" r="5.7"/><circle cx="471.2" cy="421.2" r="5.7"/><circle cx="472.2" cy="426.4" r="5.7"/><circle cx="473.3" cy="417.8" r="5.7"/><circle cx="474.4" cy="425.9" r="5.7"/><circle cx="475.5" cy="405.5" r="5.7"/><circle cx="476.5" cy="435.0" r="5.7"/><circle cx="477.6" cy="433.1" r="5.7"/><circle cx="478.7" cy="416.3" r="5.7"/><circle cx="479.7" cy="423.7" r="5.7"/><circle cx="480.8" cy="448.6" r="5.7"/><circle cx="481.9" cy="414.2" r="5.7"/><circle cx="483.0" cy="416.4" r="5.7"/><circle cx="484.0" cy="431.1" r="5.7"/><circle cx="485.1" cy="443.5" r="5.7"/><circle cx="486.2" cy="428.7" r="5.7"/><circle cx="487.3" cy="428.0" r="5.7"/><circle cx="488.3" cy="422.0" r="5.7"/><circle cx="489.4" cy="431.0" r="5.7"/><circle cx="490.5" cy="401.0" r="5.7"/><circle cx="491.6" cy="450.0" r="5.7"/><circle cx="492.6" cy="407.0" r="5.7"/><circle cx="493.7" cy="446.3" r="5.7"/><circle cx="494.8" cy="412.4" r="5.7"/><circle cx="495.9" cy="454.3" r="5.7"/><circle cx="496.9" cy="443.0" r="5.7"/><circle cx="498.0" cy="426.3" r="5.7"/><circle cx="499.1" cy="434.2" r="5.7"/><circle cx="500.2" cy="422.4" r="5.7"/><circle cx="501.2" cy="412.1" r="5.7"/><circle cx="502.3" cy="431.5" r="5.7"/><circle cx="503.4" cy="440.2" r="5.7"/><circle cx="504.5" cy="424.5" r="5.7"/><circle cx="505.5" cy="426.1" r="5.7"/><circle cx="506.6" cy="429.9" r="5.7"/><circle cx="507.7" cy="414.8" r="5.7"/><circle cx="508.8" cy="425.3" r="5.7"/><circle cx="509.8" cy="418.5" r="5.7"/><circle cx="510.9" cy="439.9" r="5.7"/><circle cx="512.0" cy="409.7" r="5.7"/><circle cx="513.1" cy="422.9" r="5.7"/><circle cx="514.1" cy="410.2" r="5.7"/><circle cx="515.2" cy="414.8" r="5.7"/><circle cx="516.3" cy="420.7" r="5.7"/><circle cx="517.4" cy="450.9" r="5.7"/><circle cx="518.4" cy="428.5" r="5.7"/><circle cx="519.5" cy="418.0" r="5.7"/><circle cx="520.6" cy="432.7" r="5.7"/><circle cx="521.7" cy="432.7" r="5.7"/><circle cx="522.7" cy="426.0" r="5.7"/><circle cx="523.8" cy="417.5" r="5.7"/><circle cx="524.9" cy="420.3" r="5.7"/><circle cx="526.0" cy="409.2" r="5.7"/><circle cx="527.0" cy="424.4" r="5.7"/><circle cx="528.1" cy="439.5" r="5.7"/><circle cx="529.2" cy="441.6" r="5.7"/><circle cx="530.3" cy="448.4" r="5.7"/><circle cx="531.3" cy="411.7" r="5.7"/><circle cx="532.4" cy="420.9" r="5.7"/><circle cx="533.5" cy="420.0" r="5.7"/><circle cx="534.5" cy="433.2" r="5.7"/><circle cx="535.6" cy="428.7" r="5.7"/><circle cx="536.7" cy="431.8" r="5.7"/><circle cx="537.8" cy="440.0" r="5.7"/><circle cx="538.8" cy="423.5" r="5.7"/><circle cx="539.9" cy="408.6" r="5.7"/><circle cx="541.0" cy="432.9" r="5.7"/><circle cx="542.1" cy="432.9" r="5.7"/><circle cx="543.1" cy="425.6" r="5.7"/><circle cx="544.2" cy="415.8" r="5.7"/><circle cx="545.3" cy="438.5" r="5.7"/><circle cx="546.4" cy="428.4" r="5.7"/><circle cx="547.4" cy="420.3" r="5.7"/><circle cx="548.5" cy="429.8" r="5.7"/><circle cx="549.6" cy="435.0" r="5.7"/><circle cx="550.7" cy="438.1" r="5.7"/><circle cx="551.7" cy="422.3" r="5.7"/><circle cx="552.8" cy="406.7" r="5.7"/><circle cx="553.9" cy="421.4" r="5.7"/><circle cx="555.0" cy="415.7" r="5.7"/><circle cx="556.0" cy="408.8" r="5.7"/><circle cx="557.1" cy="437.9" r="5.7"/><circle cx="558.2" cy="442.5" r="5.7"/><circle cx="559.3" cy="407.4" r="5.7"/><circle cx="560.3" cy="421.1" r="5.7"/><circle cx="561.4" cy="432.3" r="5.7"/><circle cx="562.5" cy="415.4" r="5.7"/><circle cx="563.6" cy="413.7" r="5.7"/><circle cx="564.6" cy="440.6" r="5.7"/><circle cx="565.7" cy="410.4" r="5.7"/><circle cx="566.8" cy="435.7" r="5.7"/><circle cx="567.9" cy="413.2" r="5.7"/><circle cx="568.9" cy="428.8" r="5.7"/><circle cx="570.0" cy="419.7" r="5.7"/><circle cx="571.1" cy="412.8" r="5.7"/><circle cx="572.2" cy="435.8" r="5.7"/><circle cx="573.2" cy="415.4" r="5.7"/><circle cx="574.3" cy="439.0" r="5.7"/><circle cx="575.4" cy="421.8" r="5.7"/><circle cx="576.5" cy="450.4" r="5.7"/><circle cx="577.5" cy="405.9" r="5.7"/><circle cx="578.6" cy="441.5" r="5.7"/><circle cx="579.7" cy="432.1" r="5.7"/><circle cx="580.8" cy="437.1" r="5.7"/><circle cx="581.8" cy="417.2" r="5.7"/><circle cx="582.9" cy="415.8" r="5.7"/><circle cx="584.0" cy="424.4" r="5.7"/><circle cx="585.1" cy="436.9" r="5.7"/><circle cx="586.1" cy="435.8" r="5.7"/><circle cx="587.2" cy="427.1" r="5.7"/><circle cx="174.9" cy="323.8" r="5.7"/><circle cx="138.3" cy="354.0" r="5.7"/><circle cx="236.1" cy="333.7" r="5.7"/><circle cx="250.5" cy="355.5" r="5.7"/><circle cx="233.1" cy="372.1" r="5.7"/><circle cx="272.0" cy="378.3" r="5.7"/><circle cx="309.2" cy="380.8" r="5.7"/><circle cx="201.4" cy="383.3" r="5.7"/><circle cx="225.0" cy="382.0" r="5.7"/><circle cx="431.1" cy="304.5" r="5.7"/><circle cx="428.7" cy="379.5" r="5.7"/><circle cx="564.1" cy="380.8" r="5.7"/><circle cx="571.5" cy="384.5" r="5.7"/><circle cx="573.8" cy="391.7" r="5.7"/><circle cx="557.5" cy="393.5" r="5.7"/><circle cx="570.2" cy="385.3" r="5.7"/><circle cx="506.9" cy="394.5" r="5.7"/><circle cx="525.0" cy="396.2" r="5.7"/><circle cx="452.6" cy="397.1" r="5.7"/><circle cx="441.7" cy="391.7" r="5.7"/></g>
<path fill="#9cc43e" d="M95.8,415.5h13.6l-6.8,14.0zM96.9,430.0h13.6l-6.8,14.0zM97.9,445.7h13.6l-6.8,14.0zM99.0,422.6h13.6l-6.8,14.0zM100.1,430.5h13.6l-6.8,14.0zM101.2,439.8h13.6l-6.8,14.0zM102.2,427.1h13.6l-6.8,14.0zM103.3,425.3h13.6l-6.8,14.0zM104.4,426.2h13.6l-6.8,14.0zM105.5,448.5h13.6l-6.8,14.0zM106.5,429.0h13.6l-6.8,14.0zM107.6,429.7h13.6l-6.8,14.0zM108.7,433.0h13.6l-6.8,14.0zM109.8,424.0h13.6l-6.8,14.0zM110.8,421.4h13.6l-6.8,14.0zM111.9,436.0h13.6l-6.8,14.0zM113.0,416.1h13.6l-6.8,14.0zM114.1,430.8h13.6l-6.8,14.0zM115.1,427.1h13.6l-6.8,14.0zM116.2,422.7h13.6l-6.8,14.0zM117.3,421.5h13.6l-6.8,14.0zM118.4,426.2h13.6l-6.8,14.0zM119.4,442.9h13.6l-6.8,14.0zM120.5,408.4h13.6l-6.8,14.0zM121.6,418.4h13.6l-6.8,14.0zM122.7,418.5h13.6l-6.8,14.0zM123.7,438.5h13.6l-6.8,14.0zM124.8,415.8h13.6l-6.8,14.0zM125.9,426.6h13.6l-6.8,14.0zM127.0,441.1h13.6l-6.8,14.0zM128.0,413.8h13.6l-6.8,14.0zM129.1,410.6h13.6l-6.8,14.0zM130.2,413.9h13.6l-6.8,14.0zM131.3,441.4h13.6l-6.8,14.0zM132.3,407.9h13.6l-6.8,14.0zM133.4,420.2h13.6l-6.8,14.0zM134.5,415.3h13.6l-6.8,14.0zM135.6,426.0h13.6l-6.8,14.0zM136.6,407.8h13.6l-6.8,14.0zM137.7,438.4h13.6l-6.8,14.0zM138.8,409.6h13.6l-6.8,14.0zM139.9,438.8h13.6l-6.8,14.0zM140.9,421.1h13.6l-6.8,14.0zM142.0,427.9h13.6l-6.8,14.0zM143.1,423.2h13.6l-6.8,14.0zM144.2,432.2h13.6l-6.8,14.0zM145.2,409.2h13.6l-6.8,14.0zM146.3,446.0h13.6l-6.8,14.0zM147.4,425.7h13.6l-6.8,14.0zM148.5,426.5h13.6l-6.8,14.0zM149.5,451.0h13.6l-6.8,14.0zM150.6,431.5h13.6l-6.8,14.0zM151.7,450.3h13.6l-6.8,14.0zM152.7,441.5h13.6l-6.8,14.0zM153.8,445.2h13.6l-6.8,14.0zM154.9,417.4h13.6l-6.8,14.0zM156.0,438.5h13.6l-6.8,14.0zM157.0,412.0h13.6l-6.8,14.0zM158.1,430.2h13.6l-6.8,14.0zM159.2,430.8h13.6l-6.8,14.0zM160.3,419.5h13.6l-6.8,14.0zM161.3,410.9h13.6l-6.8,14.0zM162.4,427.9h13.6l-6.8,14.0zM163.5,452.2h13.6l-6.8,14.0zM164.6,427.0h13.6l-6.8,14.0zM165.6,426.6h13.6l-6.8,14.0zM166.7,440.3h13.6l-6.8,14.0zM167.8,438.5h13.6l-6.8,14.0zM168.9,415.3h13.6l-6.8,14.0zM169.9,419.2h13.6l-6.8,14.0zM171.0,435.0h13.6l-6.8,14.0zM172.1,415.2h13.6l-6.8,14.0zM173.2,430.5h13.6l-6.8,14.0zM174.2,425.7h13.6l-6.8,14.0zM175.3,440.3h13.6l-6.8,14.0zM176.4,414.2h13.6l-6.8,14.0zM177.5,427.5h13.6l-6.8,14.0zM178.5,433.6h13.6l-6.8,14.0zM179.6,421.7h13.6l-6.8,14.0zM180.7,428.2h13.6l-6.8,14.0zM181.8,426.4h13.6l-6.8,14.0zM182.8,439.8h13.6l-6.8,14.0zM183.9,416.9h13.6l-6.8,14.0zM185.0,437.4h13.6l-6.8,14.0zM186.1,413.7h13.6l-6.8,14.0zM187.1,437.4h13.6l-6.8,14.0zM188.2,434.4h13.6l-6.8,14.0zM189.3,444.2h13.6l-6.8,14.0zM190.4,424.2h13.6l-6.8,14.0zM191.4,438.1h13.6l-6.8,14.0zM192.5,450.2h13.6l-6.8,14.0zM193.6,416.7h13.6l-6.8,14.0zM194.7,414.7h13.6l-6.8,14.0zM195.7,436.6h13.6l-6.8,14.0zM196.8,442.7h13.6l-6.8,14.0zM197.9,433.7h13.6l-6.8,14.0zM199.0,441.9h13.6l-6.8,14.0zM200.0,439.0h13.6l-6.8,14.0zM201.1,451.3h13.6l-6.8,14.0zM202.2,428.8h13.6l-6.8,14.0zM203.2,422.4h13.6l-6.8,14.0zM204.3,404.3h13.6l-6.8,14.0zM205.4,446.8h13.6l-6.8,14.0zM206.5,442.6h13.6l-6.8,14.0zM207.5,419.5h13.6l-6.8,14.0zM208.6,408.5h13.6l-6.8,14.0zM209.7,435.7h13.6l-6.8,14.0zM210.8,439.5h13.6l-6.8,14.0zM211.8,408.4h13.6l-6.8,14.0zM212.9,399.2h13.6l-6.8,14.0zM214.0,433.2h13.6l-6.8,14.0zM215.1,428.6h13.6l-6.8,14.0zM216.1,408.8h13.6l-6.8,14.0zM217.2,410.6h13.6l-6.8,14.0zM218.3,426.8h13.6l-6.8,14.0zM219.4,428.4h13.6l-6.8,14.0zM220.4,409.6h13.6l-6.8,14.0zM221.5,413.2h13.6l-6.8,14.0zM222.6,423.2h13.6l-6.8,14.0zM223.7,418.6h13.6l-6.8,14.0zM224.7,427.9h13.6l-6.8,14.0zM225.8,429.6h13.6l-6.8,14.0zM226.9,410.0h13.6l-6.8,14.0zM228.0,413.3h13.6l-6.8,14.0zM229.0,415.9h13.6l-6.8,14.0zM230.1,435.0h13.6l-6.8,14.0zM231.2,426.4h13.6l-6.8,14.0zM232.3,435.8h13.6l-6.8,14.0zM233.3,440.1h13.6l-6.8,14.0zM234.4,426.4h13.6l-6.8,14.0zM235.5,431.8h13.6l-6.8,14.0zM236.6,415.2h13.6l-6.8,14.0zM237.6,423.5h13.6l-6.8,14.0zM238.7,418.8h13.6l-6.8,14.0zM239.8,423.2h13.6l-6.8,14.0zM240.9,413.1h13.6l-6.8,14.0zM241.9,437.4h13.6l-6.8,14.0zM243.0,426.3h13.6l-6.8,14.0zM244.1,445.8h13.6l-6.8,14.0zM245.2,420.1h13.6l-6.8,14.0zM246.2,440.5h13.6l-6.8,14.0zM247.3,428.2h13.6l-6.8,14.0zM248.4,402.6h13.6l-6.8,14.0zM249.5,412.2h13.6l-6.8,14.0zM250.5,432.1h13.6l-6.8,14.0zM251.6,426.4h13.6l-6.8,14.0zM252.7,432.9h13.6l-6.8,14.0zM253.8,411.3h13.6l-6.8,14.0zM254.8,422.2h13.6l-6.8,14.0zM255.9,425.2h13.6l-6.8,14.0zM257.0,432.6h13.6l-6.8,14.0zM258.0,435.1h13.6l-6.8,14.0zM259.1,400.4h13.6l-6.8,14.0zM260.2,425.8h13.6l-6.8,14.0zM261.3,437.8h13.6l-6.8,14.0zM262.3,432.9h13.6l-6.8,14.0zM263.4,438.8h13.6l-6.8,14.0zM264.5,433.3h13.6l-6.8,14.0zM265.6,424.1h13.6l-6.8,14.0zM266.6,421.3h13.6l-6.8,14.0zM267.7,434.5h13.6l-6.8,14.0zM268.8,427.8h13.6l-6.8,14.0zM269.9,431.9h13.6l-6.8,14.0zM270.9,425.3h13.6l-6.8,14.0zM272.0,425.5h13.6l-6.8,14.0zM273.1,422.2h13.6l-6.8,14.0zM274.2,425.1h13.6l-6.8,14.0zM275.2,407.6h13.6l-6.8,14.0zM276.3,425.6h13.6l-6.8,14.0zM277.4,443.8h13.6l-6.8,14.0zM278.5,416.2h13.6l-6.8,14.0zM279.5,417.2h13.6l-6.8,14.0zM280.6,428.0h13.6l-6.8,14.0zM281.7,443.1h13.6l-6.8,14.0zM282.8,416.6h13.6l-6.8,14.0zM283.8,429.5h13.6l-6.8,14.0zM284.9,422.8h13.6l-6.8,14.0zM286.0,412.3h13.6l-6.8,14.0zM287.1,406.4h13.6l-6.8,14.0zM288.1,427.3h13.6l-6.8,14.0zM289.2,439.0h13.6l-6.8,14.0zM290.3,426.7h13.6l-6.8,14.0zM291.4,427.6h13.6l-6.8,14.0zM292.4,428.3h13.6l-6.8,14.0zM293.5,435.7h13.6l-6.8,14.0zM294.6,420.7h13.6l-6.8,14.0zM295.7,444.0h13.6l-6.8,14.0zM296.7,422.0h13.6l-6.8,14.0zM297.8,422.0h13.6l-6.8,14.0zM298.9,426.0h13.6l-6.8,14.0zM300.0,406.0h13.6l-6.8,14.0zM301.0,431.9h13.6l-6.8,14.0zM302.1,441.1h13.6l-6.8,14.0zM303.2,424.8h13.6l-6.8,14.0zM304.3,400.7h13.6l-6.8,14.0zM305.3,423.8h13.6l-6.8,14.0zM306.4,429.5h13.6l-6.8,14.0zM307.5,426.3h13.6l-6.8,14.0zM308.6,443.3h13.6l-6.8,14.0zM309.6,413.8h13.6l-6.8,14.0zM310.7,425.8h13.6l-6.8,14.0zM311.8,421.9h13.6l-6.8,14.0zM312.8,423.9h13.6l-6.8,14.0zM313.9,420.1h13.6l-6.8,14.0zM315.0,448.4h13.6l-6.8,14.0zM316.1,425.7h13.6l-6.8,14.0zM317.1,419.2h13.6l-6.8,14.0zM318.2,420.0h13.6l-6.8,14.0zM319.3,431.1h13.6l-6.8,14.0zM320.4,424.1h13.6l-6.8,14.0zM321.4,405.4h13.6l-6.8,14.0zM322.5,428.3h13.6l-6.8,14.0zM323.6,417.5h13.6l-6.8,14.0zM324.7,429.5h13.6l-6.8,14.0zM325.7,442.1h13.6l-6.8,14.0zM326.8,412.4h13.6l-6.8,14.0zM327.9,436.0h13.6l-6.8,14.0zM329.0,398.4h13.6l-6.8,14.0zM330.0,412.0h13.6l-6.8,14.0zM331.1,435.7h13.6l-6.8,14.0zM332.2,408.4h13.6l-6.8,14.0zM333.3,415.9h13.6l-6.8,14.0zM334.3,404.3h13.6l-6.8,14.0zM335.4,408.7h13.6l-6.8,14.0zM336.5,429.8h13.6l-6.8,14.0zM337.6,423.3h13.6l-6.8,14.0zM338.6,431.9h13.6l-6.8,14.0zM339.7,427.3h13.6l-6.8,14.0zM340.8,415.1h13.6l-6.8,14.0zM341.9,431.0h13.6l-6.8,14.0zM342.9,402.1h13.6l-6.8,14.0zM344.0,434.7h13.6l-6.8,14.0zM345.1,429.0h13.6l-6.8,14.0zM346.2,428.9h13.6l-6.8,14.0zM347.2,432.1h13.6l-6.8,14.0zM348.3,410.0h13.6l-6.8,14.0zM349.4,449.7h13.6l-6.8,14.0zM350.5,446.2h13.6l-6.8,14.0zM351.5,438.5h13.6l-6.8,14.0zM352.6,427.3h13.6l-6.8,14.0zM353.7,420.9h13.6l-6.8,14.0zM354.8,414.0h13.6l-6.8,14.0zM355.8,411.9h13.6l-6.8,14.0zM356.9,411.0h13.6l-6.8,14.0zM358.0,440.1h13.6l-6.8,14.0zM359.1,421.1h13.6l-6.8,14.0zM360.1,403.3h13.6l-6.8,14.0zM361.2,420.6h13.6l-6.8,14.0zM362.3,404.6h13.6l-6.8,14.0zM363.4,418.6h13.6l-6.8,14.0zM364.4,414.2h13.6l-6.8,14.0zM365.5,434.6h13.6l-6.8,14.0zM366.6,420.7h13.6l-6.8,14.0zM367.6,427.8h13.6l-6.8,14.0zM368.7,433.4h13.6l-6.8,14.0zM369.8,441.8h13.6l-6.8,14.0zM370.9,443.1h13.6l-6.8,14.0zM371.9,429.6h13.6l-6.8,14.0zM373.0,437.0h13.6l-6.8,14.0zM374.1,408.2h13.6l-6.8,14.0zM375.2,399.6h13.6l-6.8,14.0zM376.2,445.9h13.6l-6.8,14.0zM377.3,426.3h13.6l-6.8,14.0zM378.4,423.1h13.6l-6.8,14.0zM379.5,417.7h13.6l-6.8,14.0zM380.5,438.7h13.6l-6.8,14.0zM381.6,420.7h13.6l-6.8,14.0zM382.7,429.5h13.6l-6.8,14.0zM383.8,429.4h13.6l-6.8,14.0zM384.8,419.6h13.6l-6.8,14.0zM385.9,438.2h13.6l-6.8,14.0zM387.0,416.5h13.6l-6.8,14.0zM388.1,442.4h13.6l-6.8,14.0zM389.1,427.5h13.6l-6.8,14.0zM390.2,430.9h13.6l-6.8,14.0zM391.3,433.8h13.6l-6.8,14.0zM392.4,437.1h13.6l-6.8,14.0zM393.4,413.1h13.6l-6.8,14.0zM394.5,425.3h13.6l-6.8,14.0zM395.6,437.1h13.6l-6.8,14.0zM396.7,427.0h13.6l-6.8,14.0zM397.7,430.3h13.6l-6.8,14.0zM398.8,434.4h13.6l-6.8,14.0zM399.9,412.4h13.6l-6.8,14.0zM401.0,416.7h13.6l-6.8,14.0zM402.0,419.1h13.6l-6.8,14.0zM403.1,412.3h13.6l-6.8,14.0zM404.2,426.4h13.6l-6.8,14.0zM405.3,434.2h13.6l-6.8,14.0zM406.3,423.7h13.6l-6.8,14.0zM407.4,401.0h13.6l-6.8,14.0zM408.5,440.8h13.6l-6.8,14.0zM409.6,435.8h13.6l-6.8,14.0zM410.6,416.7h13.6l-6.8,14.0zM411.7,416.4h13.6l-6.8,14.0zM412.8,405.4h13.6l-6.8,14.0zM413.9,434.6h13.6l-6.8,14.0zM414.9,408.2h13.6l-6.8,14.0zM416.0,430.6h13.6l-6.8,14.0zM417.1,431.3h13.6l-6.8,14.0zM418.2,419.9h13.6l-6.8,14.0zM419.2,440.0h13.6l-6.8,14.0zM420.3,413.3h13.6l-6.8,14.0zM421.4,405.5h13.6l-6.8,14.0zM422.4,429.7h13.6l-6.8,14.0zM423.5,447.9h13.6l-6.8,14.0zM424.6,406.7h13.6l-6.8,14.0zM425.7,423.9h13.6l-6.8,14.0zM426.7,432.6h13.6l-6.8,14.0zM427.8,416.5h13.6l-6.8,14.0zM428.9,431.3h13.6l-6.8,14.0zM430.0,444.6h13.6l-6.8,14.0zM431.0,424.1h13.6l-6.8,14.0zM432.1,410.4h13.6l-6.8,14.0zM433.2,432.6h13.6l-6.8,14.0zM434.3,426.3h13.6l-6.8,14.0zM435.3,427.4h13.6l-6.8,14.0zM436.4,431.7h13.6l-6.8,14.0zM437.5,438.8h13.6l-6.8,14.0zM438.6,439.6h13.6l-6.8,14.0zM439.6,421.0h13.6l-6.8,14.0zM440.7,437.2h13.6l-6.8,14.0zM441.8,436.9h13.6l-6.8,14.0zM442.9,451.9h13.6l-6.8,14.0zM443.9,420.8h13.6l-6.8,14.0zM445.0,427.0h13.6l-6.8,14.0zM446.1,436.6h13.6l-6.8,14.0zM447.2,414.4h13.6l-6.8,14.0zM448.2,425.2h13.6l-6.8,14.0zM449.3,434.9h13.6l-6.8,14.0zM450.4,412.1h13.6l-6.8,14.0zM451.5,443.8h13.6l-6.8,14.0zM452.5,446.7h13.6l-6.8,14.0zM453.6,402.7h13.6l-6.8,14.0zM454.7,405.2h13.6l-6.8,14.0zM455.8,413.1h13.6l-6.8,14.0zM456.8,424.5h13.6l-6.8,14.0zM457.9,420.6h13.6l-6.8,14.0zM459.0,435.2h13.6l-6.8,14.0zM460.1,427.1h13.6l-6.8,14.0zM461.1,430.7h13.6l-6.8,14.0zM462.2,434.1h13.6l-6.8,14.0zM463.3,417.8h13.6l-6.8,14.0zM464.4,435.8h13.6l-6.8,14.0zM465.4,419.2h13.6l-6.8,14.0zM466.5,398.7h13.6l-6.8,14.0zM467.6,426.8h13.6l-6.8,14.0zM468.7,441.1h13.6l-6.8,14.0zM469.7,435.7h13.6l-6.8,14.0zM470.8,423.1h13.6l-6.8,14.0zM471.9,427.2h13.6l-6.8,14.0zM472.9,415.9h13.6l-6.8,14.0zM474.0,439.0h13.6l-6.8,14.0zM475.1,437.1h13.6l-6.8,14.0zM476.2,406.8h13.6l-6.8,14.0zM477.2,405.7h13.6l-6.8,14.0zM478.3,418.8h13.6l-6.8,14.0zM479.4,434.0h13.6l-6.8,14.0zM480.5,400.3h13.6l-6.8,14.0zM481.5,424.6h13.6l-6.8,14.0zM482.6,408.0h13.6l-6.8,14.0zM483.7,421.4h13.6l-6.8,14.0zM484.8,419.5h13.6l-6.8,14.0zM485.8,433.6h13.6l-6.8,14.0zM486.9,431.7h13.6l-6.8,14.0zM488.0,421.6h13.6l-6.8,14.0zM489.1,425.9h13.6l-6.8,14.0zM490.1,416.9h13.6l-6.8,14.0zM491.2,433.0h13.6l-6.8,14.0zM492.3,446.9h13.6l-6.8,14.0zM493.4,448.5h13.6l-6.8,14.0zM494.4,421.7h13.6l-6.8,14.0zM495.5,424.9h13.6l-6.8,14.0zM496.6,449.9h13.6l-6.8,14.0zM497.7,417.9h13.6l-6.8,14.0zM498.7,438.5h13.6l-6.8,14.0zM499.8,400.6h13.6l-6.8,14.0zM500.9,440.5h13.6l-6.8,14.0zM502.0,434.7h13.6l-6.8,14.0zM503.0,413.5h13.6l-6.8,14.0zM504.1,436.5h13.6l-6.8,14.0zM505.2,403.5h13.6l-6.8,14.0zM506.3,415.7h13.6l-6.8,14.0zM507.3,413.3h13.6l-6.8,14.0zM508.4,419.7h13.6l-6.8,14.0zM509.5,421.0h13.6l-6.8,14.0zM510.6,423.4h13.6l-6.8,14.0zM511.6,446.7h13.6l-6.8,14.0zM512.7,422.5h13.6l-6.8,14.0zM513.8,434.0h13.6l-6.8,14.0zM514.9,422.5h13.6l-6.8,14.0zM515.9,447.1h13.6l-6.8,14.0zM517.0,434.6h13.6l-6.8,14.0zM518.1,433.1h13.6l-6.8,14.0zM519.2,427.2h13.6l-6.8,14.0zM520.2,427.8h13.6l-6.8,14.0zM521.3,407.4h13.6l-6.8,14.0zM522.4,413.5h13.6l-6.8,14.0zM523.5,408.6h13.6l-6.8,14.0zM524.5,422.2h13.6l-6.8,14.0zM525.6,409.2h13.6l-6.8,14.0zM526.7,421.6h13.6l-6.8,14.0zM527.7,411.1h13.6l-6.8,14.0zM528.8,419.0h13.6l-6.8,14.0zM529.9,421.4h13.6l-6.8,14.0zM531.0,425.4h13.6l-6.8,14.0zM532.0,415.3h13.6l-6.8,14.0zM533.1,427.3h13.6l-6.8,14.0zM534.2,418.9h13.6l-6.8,14.0zM535.3,422.8h13.6l-6.8,14.0zM536.3,426.5h13.6l-6.8,14.0zM537.4,400.5h13.6l-6.8,14.0zM538.5,404.1h13.6l-6.8,14.0zM539.6,432.9h13.6l-6.8,14.0zM540.6,423.0h13.6l-6.8,14.0zM541.7,430.4h13.6l-6.8,14.0zM542.8,427.0h13.6l-6.8,14.0zM543.9,428.1h13.6l-6.8,14.0zM544.9,417.6h13.6l-6.8,14.0zM546.0,436.2h13.6l-6.8,14.0zM547.1,432.3h13.6l-6.8,14.0zM548.2,424.1h13.6l-6.8,14.0zM549.2,422.0h13.6l-6.8,14.0zM550.3,413.6h13.6l-6.8,14.0zM551.4,451.9h13.6l-6.8,14.0zM552.5,442.0h13.6l-6.8,14.0zM553.5,432.3h13.6l-6.8,14.0zM554.6,437.2h13.6l-6.8,14.0zM555.7,420.0h13.6l-6.8,14.0zM556.8,426.5h13.6l-6.8,14.0zM557.8,416.0h13.6l-6.8,14.0zM558.9,424.6h13.6l-6.8,14.0zM560.0,413.0h13.6l-6.8,14.0zM561.1,430.2h13.6l-6.8,14.0zM562.1,427.8h13.6l-6.8,14.0zM563.2,412.1h13.6l-6.8,14.0zM564.3,419.6h13.6l-6.8,14.0zM565.4,429.7h13.6l-6.8,14.0zM566.4,423.1h13.6l-6.8,14.0zM567.5,426.5h13.6l-6.8,14.0zM568.6,410.8h13.6l-6.8,14.0zM569.7,436.6h13.6l-6.8,14.0zM570.7,433.3h13.6l-6.8,14.0zM571.8,437.0h13.6l-6.8,14.0zM572.9,399.6h13.6l-6.8,14.0zM574.0,421.8h13.6l-6.8,14.0zM575.0,412.7h13.6l-6.8,14.0zM576.1,417.3h13.6l-6.8,14.0zM577.2,415.8h13.6l-6.8,14.0zM578.3,407.8h13.6l-6.8,14.0zM579.3,418.7h13.6l-6.8,14.0zM580.4,443.2h13.6l-6.8,14.0zM132.2,224.6h13.6l-6.8,14.0zM112.9,246.9h13.6l-6.8,14.0zM168.6,260.5h13.6l-6.8,14.0zM183.5,287.7h13.6l-6.8,14.0zM131.0,345.9h13.6l-6.8,14.0zM143.9,368.2h13.6l-6.8,14.0zM152.5,368.2h13.6l-6.8,14.0zM243.7,359.5h13.6l-6.8,14.0zM246.6,375.6h13.6l-6.8,14.0zM308.6,368.2h13.6l-6.8,14.0zM339.5,376.9h13.6l-6.8,14.0zM568.5,215.9h13.6l-6.8,14.0zM424.3,273.6h13.6l-6.8,14.0zM457.8,296.4h13.6l-6.8,14.0zM407.0,331.5h13.6l-6.8,14.0zM422.4,364.0h13.6l-6.8,14.0zM450.3,367.0h13.6l-6.8,14.0zM435.5,378.1h13.6l-6.8,14.0zM339.4,377.6h13.6l-6.8,14.0zM571.7,359.5h13.6l-6.8,14.0z"/>
<circle cx="149" cy="55" r="5.6" fill="#d40a8a"/>
<circle cx="149" cy="82.5" r="5.6" fill="#2e3791"/>
<path d="M141.5,105.5 L156.5,105.5 L149,119.5 Z" fill="#9cc43e"/>
<text x="169.5" y="62.5" font-size="21" text-anchor="start" fill="#231f20" font-weight="normal" >G<tspan font-size="14" dy="5">s</tspan></text>
<text x="169.5" y="90.5" font-size="21" text-anchor="start" fill="#231f20" font-weight="normal" >G<tspan font-size="14" dy="5">q</tspan></text>
<text x="169.5" y="118.5" font-size="21" text-anchor="start" fill="#231f20" font-weight="normal" >GPR68<tspan font-size="14" dy="5">q</tspan></text>
<text x="340.5" y="54.5" font-size="21" text-anchor="start" fill="#bf3f3a" font-weight="normal" letter-spacing="0.2">Toremifine</text>
<path d="M442.6,42.5 L455,42.5 L448.8,55 Z" fill="#7d2b8b"/>
<text x="503.5" y="69.5" font-size="21" text-anchor="start" fill="#231f20" font-weight="normal" letter-spacing="0.2">Lorazepam</text>
<path d="M548,75.3 L560.4,75.3 L554.2,87.7 Z" fill="#231f20"/>
<text x="605.8" y="22.8" font-size="33" text-anchor="start" fill="#231f20" font-weight="bold" stroke="#231f20" stroke-width="1.1" transform="scale(1.06,1)">b</text>
<line x1="733.60" y1="21.60" x2="733.60" y2="432.10" stroke="#231f20" stroke-width="1.5" />
<line x1="728.20" y1="394.20" x2="733.60" y2="394.20" stroke="#231f20" stroke-width="1.5" />
<text x="722.5" y="402.6" font-size="21" text-anchor="end" fill="#231f20" >1.0</text>
<line x1="728.20" y1="319.90" x2="733.60" y2="319.90" stroke="#231f20" stroke-width="1.5" />
<text x="722.5" y="328.3" font-size="21" text-anchor="end" fill="#231f20" >2.0</text>
<line x1="728.20" y1="245.60" x2="733.60" y2="245.60" stroke="#231f20" stroke-width="1.5" />
<text x="722.5" y="254.0" font-size="21" text-anchor="end" fill="#231f20" >3.0</text>
<line x1="728.20" y1="171.30" x2="733.60" y2="171.30" stroke="#231f20" stroke-width="1.5" />
<text x="722.5" y="179.7" font-size="21" text-anchor="end" fill="#231f20" >4.0</text>
<line x1="728.20" y1="97.00" x2="733.60" y2="97.00" stroke="#231f20" stroke-width="1.5" />
<text x="722.5" y="105.4" font-size="21" text-anchor="end" fill="#231f20" >5.0</text>
<line x1="728.20" y1="22.70" x2="733.60" y2="22.70" stroke="#231f20" stroke-width="1.5" />
<text x="722.5" y="31.1" font-size="21" text-anchor="end" fill="#231f20" >6.0</text>
<line x1="730.80" y1="357.05" x2="733.60" y2="357.05" stroke="#231f20" stroke-width="1.5" />
<line x1="730.80" y1="282.75" x2="733.60" y2="282.75" stroke="#231f20" stroke-width="1.5" />
<line x1="730.80" y1="208.45" x2="733.60" y2="208.45" stroke="#231f20" stroke-width="1.5" />
<line x1="730.80" y1="134.15" x2="733.60" y2="134.15" stroke="#231f20" stroke-width="1.5" />
<line x1="730.80" y1="59.85" x2="733.60" y2="59.85" stroke="#231f20" stroke-width="1.5" />
<text x="0.0" y="0.0" font-size="21" text-anchor="middle" fill="#231f20" transform="translate(665.0,237) rotate(-90)"><tspan font-style="italic">A</tspan><tspan font-size="14" dy="5">600 nm</tspan><tspan dy="-5"> (fold of basal)</tspan></text>
<line x1="740.2" y1="394.4" x2="1022" y2="394.4" stroke="#231f20" stroke-width="3.6" stroke-linecap="round" stroke-dasharray="0 6.25"/>
<line x1="759.20" y1="457.90" x2="782.00" y2="457.90" stroke="#231f20" stroke-width="1.5" />
<line x1="782.00" y1="452.60" x2="782.00" y2="463.20" stroke="#231f20" stroke-width="1.5" />
<line x1="770.80" y1="457.90" x2="770.80" y2="463.60" stroke="#231f20" stroke-width="1.5" />
<line x1="797.50" y1="457.90" x2="1024.60" y2="457.90" stroke="#231f20" stroke-width="1.5" />
<line x1="797.50" y1="452.60" x2="797.50" y2="463.20" stroke="#231f20" stroke-width="1.5" />
<line x1="808.20" y1="457.90" x2="808.20" y2="464.00" stroke="#231f20" stroke-width="1.5" />
<text x="803.7" y="492.8" font-size="21" text-anchor="middle" fill="#231f20" >&#8211;8</text>
<line x1="861.95" y1="457.90" x2="861.95" y2="464.00" stroke="#231f20" stroke-width="1.5" />
<text x="857.5" y="492.8" font-size="21" text-anchor="middle" fill="#231f20" >&#8211;7</text>
<line x1="915.70" y1="457.90" x2="915.70" y2="464.00" stroke="#231f20" stroke-width="1.5" />
<text x="911.2" y="492.8" font-size="21" text-anchor="middle" fill="#231f20" >&#8211;6</text>
<line x1="969.45" y1="457.90" x2="969.45" y2="464.00" stroke="#231f20" stroke-width="1.5" />
<text x="965.0" y="492.8" font-size="21" text-anchor="middle" fill="#231f20" >&#8211;5</text>
<line x1="1023.20" y1="457.90" x2="1023.20" y2="464.00" stroke="#231f20" stroke-width="1.5" />
<text x="1018.7" y="492.8" font-size="21" text-anchor="middle" fill="#231f20" >&#8211;4</text>
<line x1="835.08" y1="457.90" x2="835.08" y2="461.50" stroke="#231f20" stroke-width="1.5" />
<line x1="888.83" y1="457.90" x2="888.83" y2="461.50" stroke="#231f20" stroke-width="1.5" />
<line x1="942.58" y1="457.90" x2="942.58" y2="461.50" stroke="#231f20" stroke-width="1.5" />
<line x1="996.33" y1="457.90" x2="996.33" y2="461.50" stroke="#231f20" stroke-width="1.5" />
<text x="776.8" y="492.8" font-size="21" text-anchor="end" fill="#231f20" >Basal</text>
<text x="877.7" y="530.3" font-size="21" text-anchor="middle" fill="#231f20" >log[drug] (M)</text>
<line x1="745.40" y1="26.60" x2="768.20" y2="26.60" stroke="#231f20" stroke-width="2.0" />
<circle cx="756.8" cy="26.6" r="4.95" fill="#231f20"/>
<text x="778.4" y="34.1" font-size="21" text-anchor="start" fill="#231f20" letter-spacing="0.05">Lorazepam</text>
<line x1="745.40" y1="50.80" x2="768.20" y2="50.80" stroke="#4e9dc2" stroke-width="2.0" />
<rect x="752.5" y="46.5" width="8.6" height="8.6" fill="#4e9dc2"/>
<text x="778.4" y="58.3" font-size="21" text-anchor="start" fill="#4e9dc2" letter-spacing="0.05">Desmethyldiazepam</text>
<line x1="745.40" y1="75.00" x2="768.20" y2="75.00" stroke="#7cb84c" stroke-width="2.0" />
<path d="M756.8,69.0L762.0,78.9L751.6,78.9Z" fill="#7cb84c"/>
<text x="778.4" y="82.5" font-size="21" text-anchor="start" fill="#7cb84c" letter-spacing="0.05">Diazepam</text>
<line x1="745.40" y1="99.20" x2="768.20" y2="99.20" stroke="#eba057" stroke-width="2.0" />
<path d="M756.8,105.2L762.0,95.3L751.6,95.3Z" fill="#eba057"/>
<text x="778.4" y="106.7" font-size="21" text-anchor="start" fill="#eba057" letter-spacing="0.05">Flunitrazepam</text>
<path d="M756.8,119.0L760.7,123.4L756.8,127.8L752.9,123.4Z" fill="#bb5fad"/>
<text x="778.4" y="130.9" font-size="21" text-anchor="start" fill="#bb5fad" letter-spacing="0.05">4-Chlorodiazepam</text>
<polyline points="796.4,393.8 798.9,393.7 801.4,393.6 804.0,393.6 806.5,393.5 809.0,393.4 811.6,393.4 814.1,393.3 816.6,393.2 819.2,393.1 821.7,393.0 824.2,392.9 826.7,392.8 829.3,392.7 831.8,392.6 834.3,392.5 836.9,392.4 839.4,392.2 841.9,392.1 844.5,392.0 847.0,391.8 849.5,391.7 852.1,391.5 854.6,391.3 857.1,391.1 859.7,390.9 862.2,390.7 864.7,390.5 867.2,390.3 869.8,390.1 872.3,389.8 874.8,389.6 877.4,389.3 879.9,389.0 882.4,388.8 885.0,388.4 887.5,388.1 890.0,387.8 892.6,387.4 895.1,387.1 897.6,386.7 900.1,386.2 902.7,385.8 905.2,385.4 907.7,384.9 910.3,384.4 912.8,383.9 915.3,383.3 917.9,382.7 920.4,382.1 922.9,381.5 925.5,380.8 928.0,380.2 930.5,379.4 933.0,378.7 935.6,377.9 938.1,377.0 940.6,376.1 943.2,375.2 945.7,374.3 948.2,373.3 950.8,372.2 953.3,371.1 955.8,369.9 958.4,368.7 960.9,367.5 963.4,366.1 966.0,364.7 968.5,363.3 971.0,361.8 973.5,360.2 976.1,358.5 978.6,356.8 981.1,354.9 983.7,353.0 986.2,351.1 988.7,349.0 991.3,346.8 993.8,344.6 996.3,342.2" fill="none" stroke="#7cb84c" stroke-width="2.0"/>
<polyline points="796.4,396.0 798.9,396.0 801.4,396.0 804.0,395.9 806.5,395.9 809.0,395.9 811.6,395.8 814.1,395.8 816.6,395.7 819.2,395.7 821.7,395.7 824.2,395.6 826.7,395.6 829.3,395.5 831.8,395.4 834.3,395.4 836.9,395.3 839.4,395.2 841.9,395.2 844.5,395.1 847.0,395.0 849.5,394.9 852.1,394.8 854.6,394.7 857.1,394.6 859.7,394.5 862.2,394.4 864.7,394.2 867.2,394.1 869.8,394.0 872.3,393.8 874.8,393.6 877.4,393.5 879.9,393.3 882.4,393.1 885.0,392.9 887.5,392.6 890.0,392.4 892.6,392.1 895.1,391.9 897.6,391.6 900.1,391.3 902.7,391.0 905.2,390.6 907.7,390.3 910.3,389.9 912.8,389.5 915.3,389.0 917.9,388.6 920.4,388.1 922.9,387.5 925.5,387.0 928.0,386.4 930.5,385.8 933.0,385.1 935.6,384.4 938.1,383.6 940.6,382.8 943.2,382.0 945.7,381.1 948.2,380.2 950.8,379.1 953.3,378.1 955.8,376.9 958.4,375.7 960.9,374.5 963.4,373.1 966.0,371.7 968.5,370.2 971.0,368.6 973.5,366.9 976.1,365.1 978.6,363.2 981.1,361.1 983.7,359.0 986.2,356.8 988.7,354.4 991.3,351.9 993.8,349.2 996.3,346.4" fill="none" stroke="#eba057" stroke-width="2.0"/>
<polyline points="796.4,393.3 798.9,393.2 801.4,393.0 804.0,392.9 806.5,392.7 809.0,392.6 811.6,392.4 814.1,392.2 816.6,392.0 819.2,391.8 821.7,391.5 824.2,391.3 826.7,391.0 829.3,390.7 831.8,390.4 834.3,390.1 836.9,389.7 839.4,389.3 841.9,388.9 844.5,388.4 847.0,387.9 849.5,387.4 852.1,386.9 854.6,386.3 857.1,385.6 859.7,384.9 862.2,384.2 864.7,383.4 867.2,382.5 869.8,381.6 872.3,380.6 874.8,379.6 877.4,378.5 879.9,377.3 882.4,376.0 885.0,374.6 887.5,373.1 890.0,371.5 892.6,369.9 895.1,368.1 897.6,366.1 900.1,364.1 902.7,361.9 905.2,359.6 907.7,357.1 910.3,354.5 912.8,351.7 915.3,348.7 917.9,345.5 920.4,342.2 922.9,338.6 925.5,334.9 928.0,330.9 930.5,326.7 933.0,322.3 935.6,317.6 938.1,312.7 940.6,307.6 943.2,302.2 945.7,296.5 948.2,290.6 950.8,284.4 953.3,278.0 955.8,271.3 958.4,264.4 960.9,257.2 963.4,249.8 966.0,242.1 968.5,234.2 971.0,226.1 973.5,217.8 976.1,209.3 978.6,200.6 981.1,191.8 983.7,182.9 986.2,173.9 988.7,164.7 991.3,155.6 993.8,146.4 996.3,137.1" fill="none" stroke="#4e9dc2" stroke-width="2.0"/>
<polyline points="796.4,393.9 798.9,393.8 801.4,393.8 804.0,393.7 806.5,393.7 809.0,393.6 811.6,393.5 814.1,393.4 816.6,393.4 819.2,393.3 821.7,393.1 824.2,393.0 826.7,392.9 829.3,392.7 831.8,392.5 834.3,392.3 836.9,392.1 839.4,391.9 841.9,391.6 844.5,391.3 847.0,391.0 849.5,390.6 852.1,390.1 854.6,389.7 857.1,389.1 859.7,388.6 862.2,387.9 864.7,387.2 867.2,386.4 869.8,385.5 872.3,384.5 874.8,383.3 877.4,382.1 879.9,380.8 882.4,379.2 885.0,377.6 887.5,375.8 890.0,373.7 892.6,371.5 895.1,369.1 897.6,366.5 900.1,363.6 902.7,360.5 905.2,357.1 907.7,353.4 910.3,349.5 912.8,345.3 915.3,340.7 917.9,335.9 920.4,330.9 922.9,325.5 925.5,319.9 928.0,314.1 930.5,308.0 933.0,301.8 935.6,295.4 938.1,288.9 940.6,282.4 943.2,275.8 945.7,269.2 948.2,262.6 950.8,256.2 953.3,249.9 955.8,243.7 958.4,237.7 960.9,232.0 963.4,226.5 966.0,221.3 968.5,216.3 971.0,211.6 973.5,207.2 976.1,203.1 978.6,199.3 981.1,195.8 983.7,192.5 986.2,189.5 988.7,186.7 991.3,184.2 993.8,181.8 996.3,179.7" fill="none" stroke="#231f20" stroke-width="2.0"/>
<line x1="942.58" y1="390.20" x2="942.58" y2="400.30" stroke="#bb5fad" stroke-width="1.6" /><line x1="938.28" y1="390.20" x2="946.88" y2="390.20" stroke="#bb5fad" stroke-width="1.6" /><line x1="938.28" y1="400.30" x2="946.88" y2="400.30" stroke="#bb5fad" stroke-width="1.6" />
<line x1="969.45" y1="397.00" x2="969.45" y2="405.60" stroke="#bb5fad" stroke-width="1.6" /><line x1="965.15" y1="397.00" x2="973.75" y2="397.00" stroke="#bb5fad" stroke-width="1.6" /><line x1="965.15" y1="405.60" x2="973.75" y2="405.60" stroke="#bb5fad" stroke-width="1.6" />
<line x1="996.33" y1="405.50" x2="996.33" y2="427.40" stroke="#bb5fad" stroke-width="1.6" /><line x1="992.03" y1="405.50" x2="1000.62" y2="405.50" stroke="#bb5fad" stroke-width="1.6" /><line x1="992.03" y1="427.40" x2="1000.62" y2="427.40" stroke="#bb5fad" stroke-width="1.6" />
<path d="M770.8,394.6L775.2,399.6L770.8,404.6L766.4,399.6Z" fill="#bb5fad"/>
<path d="M808.2,401.0L812.6,406.0L808.2,411.0L803.8,406.0Z" fill="#bb5fad"/>
<path d="M835.1,398.5L839.5,403.5L835.1,408.5L830.7,403.5Z" fill="#bb5fad"/>
<path d="M862.0,394.6L866.4,399.6L862.0,404.6L857.6,399.6Z" fill="#bb5fad"/>
<path d="M888.8,397.7L893.2,402.7L888.8,407.7L884.4,402.7Z" fill="#bb5fad"/>
<path d="M915.7,395.9L920.1,400.9L915.7,405.9L911.3,400.9Z" fill="#bb5fad"/>
<path d="M942.6,390.2L947.0,395.2L942.6,400.2L938.2,395.2Z" fill="#bb5fad"/>
<path d="M969.5,395.9L973.9,400.9L969.5,405.9L965.1,400.9Z" fill="#bb5fad"/>
<path d="M996.3,411.3L1000.7,416.3L996.3,421.3L991.9,416.3Z" fill="#bb5fad"/>
<line x1="835.08" y1="398.00" x2="835.08" y2="409.00" stroke="#eba057" stroke-width="1.6" /><line x1="830.78" y1="398.00" x2="839.38" y2="398.00" stroke="#eba057" stroke-width="1.6" /><line x1="830.78" y1="409.00" x2="839.38" y2="409.00" stroke="#eba057" stroke-width="1.6" />
<line x1="996.33" y1="335.10" x2="996.33" y2="356.60" stroke="#eba057" stroke-width="1.6" /><line x1="992.03" y1="335.10" x2="1000.62" y2="335.10" stroke="#eba057" stroke-width="1.6" /><line x1="992.03" y1="356.60" x2="1000.62" y2="356.60" stroke="#eba057" stroke-width="1.6" />
<path d="M808.2,406.7L813.0,397.5L803.4,397.5Z" fill="#eba057"/>
<path d="M835.1,409.8L839.9,400.6L830.3,400.6Z" fill="#eba057"/>
<path d="M862.0,398.3L866.8,389.1L857.2,389.1Z" fill="#eba057"/>
<path d="M888.8,395.3L893.6,386.1L884.0,386.1Z" fill="#eba057"/>
<path d="M915.7,390.9L920.5,381.7L910.9,381.7Z" fill="#eba057"/>
<path d="M942.6,386.4L947.4,377.2L937.8,377.2Z" fill="#eba057"/>
<path d="M969.5,379.0L974.2,369.8L964.7,369.8Z" fill="#eba057"/>
<path d="M996.3,350.8L1001.1,341.6L991.5,341.6Z" fill="#eba057"/>
<line x1="969.45" y1="361.00" x2="969.45" y2="377.00" stroke="#7cb84c" stroke-width="1.6" /><line x1="965.15" y1="361.00" x2="973.75" y2="361.00" stroke="#7cb84c" stroke-width="1.6" /><line x1="965.15" y1="377.00" x2="973.75" y2="377.00" stroke="#7cb84c" stroke-width="1.6" />
<line x1="996.33" y1="318.40" x2="996.33" y2="357.20" stroke="#7cb84c" stroke-width="1.6" /><line x1="992.03" y1="318.40" x2="1000.62" y2="318.40" stroke="#7cb84c" stroke-width="1.6" /><line x1="992.03" y1="357.20" x2="1000.62" y2="357.20" stroke="#7cb84c" stroke-width="1.6" />
<path d="M808.2,393.4L813.0,402.6L803.4,402.6Z" fill="#7cb84c"/>
<path d="M835.1,390.8L839.9,400.0L830.3,400.0Z" fill="#7cb84c"/>
<path d="M862.0,385.2L866.8,394.4L857.2,394.4Z" fill="#7cb84c"/>
<path d="M888.8,376.7L893.6,385.9L884.0,385.9Z" fill="#7cb84c"/>
<path d="M915.7,373.7L920.5,382.9L910.9,382.9Z" fill="#7cb84c"/>
<path d="M942.6,369.3L947.4,378.5L937.8,378.5Z" fill="#7cb84c"/>
<path d="M969.5,363.3L974.2,372.5L964.7,372.5Z" fill="#7cb84c"/>
<path d="M996.3,334.4L1001.1,343.6L991.5,343.6Z" fill="#7cb84c"/>
<line x1="915.70" y1="333.20" x2="915.70" y2="347.60" stroke="#4e9dc2" stroke-width="1.6" /><line x1="911.40" y1="333.20" x2="920.00" y2="333.20" stroke="#4e9dc2" stroke-width="1.6" /><line x1="911.40" y1="347.60" x2="920.00" y2="347.60" stroke="#4e9dc2" stroke-width="1.6" />
<line x1="942.58" y1="295.40" x2="942.58" y2="314.70" stroke="#4e9dc2" stroke-width="1.6" /><line x1="938.28" y1="295.40" x2="946.88" y2="295.40" stroke="#4e9dc2" stroke-width="1.6" /><line x1="938.28" y1="314.70" x2="946.88" y2="314.70" stroke="#4e9dc2" stroke-width="1.6" />
<line x1="969.45" y1="205.00" x2="969.45" y2="260.40" stroke="#4e9dc2" stroke-width="1.6" /><line x1="965.15" y1="205.00" x2="973.75" y2="205.00" stroke="#4e9dc2" stroke-width="1.6" /><line x1="965.15" y1="260.40" x2="973.75" y2="260.40" stroke="#4e9dc2" stroke-width="1.6" />
<line x1="996.33" y1="83.60" x2="996.33" y2="188.60" stroke="#4e9dc2" stroke-width="1.6" /><line x1="992.03" y1="83.60" x2="1000.62" y2="83.60" stroke="#4e9dc2" stroke-width="1.6" /><line x1="992.03" y1="188.60" x2="1000.62" y2="188.60" stroke="#4e9dc2" stroke-width="1.6" />
<rect x="766.8" y="390.4" width="8.0" height="8.0" fill="#4e9dc2"/>
<rect x="804.2" y="389.1" width="8.0" height="8.0" fill="#4e9dc2"/>
<rect x="831.1" y="392.5" width="8.0" height="8.0" fill="#4e9dc2"/>
<rect x="858.0" y="383.5" width="8.0" height="8.0" fill="#4e9dc2"/>
<rect x="884.8" y="370.4" width="8.0" height="8.0" fill="#4e9dc2"/>
<rect x="911.7" y="336.4" width="8.0" height="8.0" fill="#4e9dc2"/>
<rect x="938.6" y="299.8" width="8.0" height="8.0" fill="#4e9dc2"/>
<rect x="965.5" y="228.8" width="8.0" height="8.0" fill="#4e9dc2"/>
<rect x="992.3" y="132.4" width="8.0" height="8.0" fill="#4e9dc2"/>
<line x1="942.58" y1="264.20" x2="942.58" y2="296.90" stroke="#231f20" stroke-width="1.6" /><line x1="938.28" y1="264.20" x2="946.88" y2="264.20" stroke="#231f20" stroke-width="1.6" /><line x1="938.28" y1="296.90" x2="946.88" y2="296.90" stroke="#231f20" stroke-width="1.6" />
<line x1="969.45" y1="169.00" x2="969.45" y2="241.70" stroke="#231f20" stroke-width="1.6" /><line x1="965.15" y1="169.00" x2="973.75" y2="169.00" stroke="#231f20" stroke-width="1.6" /><line x1="965.15" y1="241.70" x2="973.75" y2="241.70" stroke="#231f20" stroke-width="1.6" />
<line x1="996.33" y1="132.30" x2="996.33" y2="237.40" stroke="#231f20" stroke-width="1.6" /><line x1="992.03" y1="132.30" x2="1000.62" y2="132.30" stroke="#231f20" stroke-width="1.6" /><line x1="992.03" y1="237.40" x2="1000.62" y2="237.40" stroke="#231f20" stroke-width="1.6" />
<circle cx="770.8" cy="390.4" r="5.10" fill="#231f20"/>
<circle cx="808.2" cy="392.4" r="5.10" fill="#231f20"/>
<circle cx="835.1" cy="388.0" r="5.10" fill="#231f20"/>
<circle cx="862.0" cy="380.3" r="5.10" fill="#231f20"/>
<circle cx="888.8" cy="364.3" r="5.10" fill="#231f20"/>
<circle cx="915.7" cy="347.9" r="5.10" fill="#231f20"/>
<circle cx="942.6" cy="280.3" r="5.10" fill="#231f20"/>
<circle cx="969.5" cy="205.5" r="5.10" fill="#231f20"/>
<circle cx="996.3" cy="184.6" r="5.10" fill="#231f20"/>
<text x="476.0" y="593.1" font-size="33" text-anchor="start" fill="#231f20" font-weight="bold" stroke="#231f20" stroke-width="1.1" transform="scale(1.06,1)">d</text>
<line x1="577.80" y1="656.30" x2="577.80" y2="952.50" stroke="#231f20" stroke-width="1.5" />
<line x1="572.80" y1="951.70" x2="577.80" y2="951.70" stroke="#231f20" stroke-width="1.5" />
<text x="570.3" y="959.1" font-size="21" text-anchor="end" fill="#231f20" >0</text>
<line x1="572.80" y1="877.80" x2="577.80" y2="877.80" stroke="#231f20" stroke-width="1.5" />
<text x="570.3" y="885.2" font-size="21" text-anchor="end" fill="#231f20" >10</text>
<line x1="572.80" y1="803.90" x2="577.80" y2="803.90" stroke="#231f20" stroke-width="1.5" />
<text x="570.3" y="811.3" font-size="21" text-anchor="end" fill="#231f20" >20</text>
<line x1="572.80" y1="730.00" x2="577.80" y2="730.00" stroke="#231f20" stroke-width="1.5" />
<text x="570.3" y="737.4" font-size="21" text-anchor="end" fill="#231f20" >30</text>
<line x1="572.80" y1="656.10" x2="577.80" y2="656.10" stroke="#231f20" stroke-width="1.5" />
<text x="570.3" y="663.5" font-size="21" text-anchor="end" fill="#231f20" >40</text>
<line x1="575.00" y1="914.75" x2="577.80" y2="914.75" stroke="#231f20" stroke-width="1.5" />
<line x1="575.00" y1="840.85" x2="577.80" y2="840.85" stroke="#231f20" stroke-width="1.5" />
<line x1="575.00" y1="766.95" x2="577.80" y2="766.95" stroke="#231f20" stroke-width="1.5" />
<line x1="575.00" y1="693.05" x2="577.80" y2="693.05" stroke="#231f20" stroke-width="1.5" />
<text x="0.0" y="0.0" font-size="21" text-anchor="middle" fill="#231f20" transform="translate(519.0,803.6) rotate(-90)">RLU (fold of basal)</text>
<line x1="597.80" y1="971.60" x2="1046.00" y2="971.60" stroke="#231f20" stroke-width="1.5" />
<line x1="634.75" y1="971.60" x2="634.75" y2="976.00" stroke="#231f20" stroke-width="1.5" />
<text x="635.0" y="998.2" font-size="21" text-anchor="middle" fill="#231f20" >&#8211;8.5</text>
<line x1="710.10" y1="971.60" x2="710.10" y2="976.00" stroke="#231f20" stroke-width="1.5" />
<text x="710.4" y="998.2" font-size="21" text-anchor="middle" fill="#231f20" >&#8211;8.0</text>
<line x1="785.45" y1="971.60" x2="785.45" y2="976.00" stroke="#231f20" stroke-width="1.5" />
<text x="785.8" y="998.2" font-size="21" text-anchor="middle" fill="#231f20" >&#8211;7.5</text>
<line x1="860.80" y1="971.60" x2="860.80" y2="976.00" stroke="#231f20" stroke-width="1.5" />
<text x="861.1" y="998.2" font-size="21" text-anchor="middle" fill="#231f20" >&#8211;7.0</text>
<line x1="936.15" y1="971.60" x2="936.15" y2="976.00" stroke="#231f20" stroke-width="1.5" />
<text x="936.4" y="998.2" font-size="21" text-anchor="middle" fill="#231f20" >&#8211;6.5</text>
<line x1="1011.50" y1="971.60" x2="1011.50" y2="976.00" stroke="#231f20" stroke-width="1.5" />
<text x="1011.8" y="998.2" font-size="21" text-anchor="middle" fill="#231f20" >&#8211;6.0</text>
<line x1="672.43" y1="971.60" x2="672.43" y2="974.20" stroke="#231f20" stroke-width="1.5" />
<line x1="747.77" y1="971.60" x2="747.77" y2="974.20" stroke="#231f20" stroke-width="1.5" />
<line x1="823.12" y1="971.60" x2="823.12" y2="974.20" stroke="#231f20" stroke-width="1.5" />
<line x1="898.48" y1="971.60" x2="898.48" y2="974.20" stroke="#231f20" stroke-width="1.5" />
<line x1="973.83" y1="971.60" x2="973.83" y2="974.20" stroke="#231f20" stroke-width="1.5" />
<text x="786.2" y="1031.5" font-size="21" text-anchor="start" fill="#231f20" >log[H<tspan font-size="14" dy="-6.5">+</tspan><tspan dy="6.5">]</tspan></text>
<text x="599.0" y="596.9" font-size="21" text-anchor="start" fill="#231f20" >Lorazepam (&#956;M)</text>
<line x1="615.20" y1="621.30" x2="632.60" y2="621.30" stroke="#231f20" stroke-width="1.8" />
<circle cx="623.9" cy="621.3" r="5.57" fill="#231f20"/>
<text x="642.1" y="628.7" font-size="21" text-anchor="start" fill="#231f20" >0</text>
<line x1="615.20" y1="647.90" x2="632.60" y2="647.90" stroke="#9a6f2e" stroke-width="1.8" />
<rect x="619.1" y="643.1" width="9.7" height="9.7" fill="#9a6f2e"/>
<text x="642.1" y="655.3" font-size="21" text-anchor="start" fill="#231f20" >0.03</text>
<line x1="615.20" y1="674.50" x2="632.60" y2="674.50" stroke="#d7282f" stroke-width="1.8" />
<path d="M623.9,668.4L629.4,678.5L618.4,678.5Z" fill="#d7282f"/>
<text x="642.1" y="681.9" font-size="21" text-anchor="start" fill="#231f20" >0.1</text>
<line x1="615.20" y1="701.10" x2="632.60" y2="701.10" stroke="#e98a32" stroke-width="1.8" />
<path d="M623.9,707.2L629.4,697.1L618.4,697.1Z" fill="#e98a32"/>
<text x="642.1" y="708.5" font-size="21" text-anchor="start" fill="#231f20" >0.3</text>
<line x1="615.20" y1="727.70" x2="632.60" y2="727.70" stroke="#7dc143" stroke-width="1.8" />
<path d="M623.9,722.4L628.7,727.7L623.9,732.9L619.1,727.7Z" fill="#7dc143"/>
<text x="642.1" y="735.1" font-size="21" text-anchor="start" fill="#231f20" >1</text>
<line x1="615.20" y1="754.30" x2="632.60" y2="754.30" stroke="#3b8b45" stroke-width="1.8" />
<circle cx="623.9" cy="754.3" r="4.62" fill="none" stroke="#3b8b45" stroke-width="1.7"/>
<text x="642.1" y="761.7" font-size="21" text-anchor="start" fill="#231f20" >3</text>
<line x1="615.20" y1="780.90" x2="632.60" y2="780.90" stroke="#2f3ea0" stroke-width="1.8" />
<rect x="619.4" y="776.4" width="9.0" height="9.0" fill="none" stroke="#2f3ea0" stroke-width="1.7"/>
<text x="642.1" y="788.3" font-size="21" text-anchor="start" fill="#231f20" >10</text>
<line x1="615.20" y1="807.50" x2="632.60" y2="807.50" stroke="#c065b5" stroke-width="1.8" />
<path d="M623.9,802.0L628.9,811.3L618.9,811.3Z" fill="none" stroke="#c065b5" stroke-width="1.6" stroke-linejoin="miter"/>
<text x="642.1" y="814.9" font-size="21" text-anchor="start" fill="#231f20" >30</text>
<polyline points="619.7,944.5 624.1,944.5 628.5,944.5 632.9,944.4 637.3,944.4 641.7,944.4 646.1,944.3 650.5,944.3 654.9,944.2 659.3,944.1 663.7,944.1 668.1,944.0 672.5,943.9 676.9,943.8 681.3,943.6 685.7,943.5 690.1,943.3 694.5,943.1 698.9,942.9 703.3,942.7 707.7,942.4 712.1,942.0 716.5,941.7 720.9,941.3 725.3,940.8 729.7,940.3 734.1,939.7 738.5,939.0 742.9,938.2 747.4,937.3 751.8,936.3 756.2,935.2 760.6,933.9 765.0,932.5 769.4,930.9 773.8,929.1 778.2,927.0 782.6,924.8 787.0,922.3 791.4,919.5 795.8,916.4 800.2,913.0 804.6,909.2 809.0,905.1 813.4,900.7 817.8,895.8 822.2,890.6 826.6,885.1 831.0,879.2 835.4,872.9 839.8,866.4 844.2,859.6 848.6,852.6 853.0,845.4 857.4,838.1 861.8,830.8 866.2,823.5 870.6,816.3 875.0,809.3 879.4,802.4 883.8,795.8 888.2,789.5 892.6,783.5 897.0,777.8 901.4,772.5 905.8,767.6 910.2,763.0 914.6,758.8 919.0,755.0 923.5,751.5 927.9,748.3 932.3,745.5 936.7,742.9 941.1,740.5 945.5,738.5 949.9,736.6 954.3,734.9 958.7,733.5 963.1,732.2 967.5,731.0 971.9,730.0 976.3,729.1 980.7,728.2 985.1,727.5 989.5,726.9 993.9,726.4 998.3,725.9 1002.7,725.4 1007.1,725.1 1011.5,724.7" fill="none" stroke="#c065b5" stroke-width="2.0"/>
<polyline points="619.7,944.6 624.1,944.5 628.5,944.5 632.9,944.5 637.3,944.5 641.7,944.4 646.1,944.4 650.5,944.4 654.9,944.3 659.3,944.3 663.7,944.2 668.1,944.1 672.5,944.1 676.9,944.0 681.3,943.9 685.7,943.8 690.1,943.6 694.5,943.5 698.9,943.3 703.3,943.1 707.7,942.9 712.1,942.7 716.5,942.4 720.9,942.1 725.3,941.7 729.7,941.3 734.1,940.8 738.5,940.3 742.9,939.7 747.4,939.0 751.8,938.2 756.2,937.4 760.6,936.4 765.0,935.2 769.4,933.9 773.8,932.5 778.2,930.9 782.6,929.1 787.0,927.0 791.4,924.8 795.8,922.2 800.2,919.4 804.6,916.3 809.0,912.9 813.4,909.1 817.8,904.9 822.2,900.4 826.6,895.6 831.0,890.3 835.4,884.7 839.8,878.7 844.2,872.4 848.6,865.9 853.0,859.0 857.4,852.0 861.8,844.8 866.2,837.5 870.6,830.2 875.0,822.9 879.4,815.7 883.8,808.7 888.2,801.9 892.6,795.3 897.0,789.1 901.4,783.2 905.8,777.6 910.2,772.4 914.6,767.5 919.0,763.1 923.5,759.0 927.9,755.2 932.3,751.8 936.7,748.7 941.1,746.0 945.5,743.4 949.9,741.2 954.3,739.2 958.7,737.4 963.1,735.8 967.5,734.4 971.9,733.1 976.3,732.0 980.7,731.0 985.1,730.2 989.5,729.4 993.9,728.7 998.3,728.1 1002.7,727.6 1007.1,727.1 1011.5,726.7" fill="none" stroke="#2f3ea0" stroke-width="2.0"/>
<polyline points="619.7,944.6 624.1,944.6 628.5,944.6 632.9,944.6 637.3,944.5 641.7,944.5 646.1,944.5 650.5,944.5 654.9,944.5 659.3,944.4 663.7,944.4 668.1,944.3 672.5,944.3 676.9,944.2 681.3,944.2 685.7,944.1 690.1,944.0 694.5,943.9 698.9,943.8 703.3,943.7 707.7,943.6 712.1,943.4 716.5,943.3 720.9,943.1 725.3,942.8 729.7,942.6 734.1,942.3 738.5,941.9 742.9,941.6 747.4,941.1 751.8,940.6 756.2,940.1 760.6,939.5 765.0,938.7 769.4,937.9 773.8,937.0 778.2,936.0 782.6,934.8 787.0,933.5 791.4,932.0 795.8,930.4 800.2,928.5 804.6,926.4 809.0,924.1 813.4,921.5 817.8,918.7 822.2,915.5 826.6,912.0 831.0,908.2 835.4,904.0 839.8,899.5 844.2,894.6 848.6,889.4 853.0,883.8 857.4,877.9 861.8,871.6 866.2,865.1 870.6,858.4 875.0,851.5 879.4,844.5 883.8,837.3 888.2,830.2 892.6,823.2 897.0,816.2 901.4,809.4 905.8,802.9 910.2,796.5 914.6,790.5 919.0,784.9 923.5,779.5 927.9,774.5 932.3,769.9 936.7,765.6 941.1,761.7 945.5,758.1 949.9,754.9 954.3,751.9 958.7,749.3 963.1,746.9 967.5,744.7 971.9,742.8 976.3,741.1 980.7,739.6 985.1,738.2 989.5,737.0 993.9,735.9 998.3,735.0 1002.7,734.1 1007.1,733.4 1011.5,732.7" fill="none" stroke="#3b8b45" stroke-width="2.0"/>
<polyline points="619.7,944.6 624.1,944.6 628.5,944.6 632.9,944.6 637.3,944.6 641.7,944.6 646.1,944.6 650.5,944.5 654.9,944.5 659.3,944.5 663.7,944.5 668.1,944.4 672.5,944.4 676.9,944.4 681.3,944.3 685.7,944.3 690.1,944.2 694.5,944.2 698.9,944.1 703.3,944.0 707.7,943.9 712.1,943.8 716.5,943.7 720.9,943.6 725.3,943.4 729.7,943.2 734.1,943.0 738.5,942.8 742.9,942.6 747.4,942.3 751.8,941.9 756.2,941.6 760.6,941.1 765.0,940.7 769.4,940.1 773.8,939.5 778.2,938.8 782.6,938.0 787.0,937.1 791.4,936.1 795.8,935.0 800.2,933.7 804.6,932.3 809.0,930.7 813.4,929.0 817.8,927.0 822.2,924.8 826.6,922.3 831.0,919.6 835.4,916.6 839.8,913.3 844.2,909.7 848.6,905.8 853.0,901.5 857.4,896.9 861.8,892.0 866.2,886.7 870.6,881.1 875.0,875.3 879.4,869.2 883.8,862.8 888.2,856.3 892.6,849.6 897.0,842.9 901.4,836.1 905.8,829.4 910.2,822.8 914.6,816.3 919.0,810.0 923.5,803.9 927.9,798.1 932.3,792.5 936.7,787.3 941.1,782.4 945.5,777.9 949.9,773.7 954.3,769.8 958.7,766.2 963.1,763.0 967.5,760.0 971.9,757.3 976.3,754.9 980.7,752.7 985.1,750.8 989.5,749.0 993.9,747.5 998.3,746.1 1002.7,744.8 1007.1,743.7 1011.5,742.7" fill="none" stroke="#7dc143" stroke-width="2.0"/>
<polyline points="619.7,944.6 624.1,944.6 628.5,944.6 632.9,944.6 637.3,944.6 641.7,944.6 646.1,944.6 650.5,944.6 654.9,944.6 659.3,944.6 663.7,944.6 668.1,944.5 672.5,944.5 676.9,944.5 681.3,944.5 685.7,944.4 690.1,944.4 694.5,944.4 698.9,944.3 703.3,944.3 707.7,944.2 712.1,944.2 716.5,944.1 720.9,944.0 725.3,943.9 729.7,943.8 734.1,943.7 738.5,943.5 742.9,943.3 747.4,943.2 751.8,942.9 756.2,942.7 760.6,942.4 765.0,942.1 769.4,941.7 773.8,941.3 778.2,940.8 782.6,940.3 787.0,939.7 791.4,939.0 795.8,938.2 800.2,937.3 804.6,936.3 809.0,935.2 813.4,933.9 817.8,932.5 822.2,930.9 826.6,929.1 831.0,927.0 835.4,924.8 839.8,922.2 844.2,919.4 848.6,916.4 853.0,913.0 857.4,909.2 861.8,905.2 866.2,900.8 870.6,896.1 875.0,891.0 879.4,885.6 883.8,879.9 888.2,874.0 892.6,867.8 897.0,861.4 901.4,854.9 905.8,848.2 910.2,841.6 914.6,835.0 919.0,828.5 923.5,822.1 927.9,815.9 932.3,810.0 936.7,804.3 941.1,798.9 945.5,793.8 949.9,789.1 954.3,784.7 958.7,780.7 963.1,777.0 967.5,773.6 971.9,770.5 976.3,767.7 980.7,765.2 985.1,763.0 989.5,760.9 993.9,759.1 998.3,757.5 1002.7,756.1 1007.1,754.8 1011.5,753.7" fill="none" stroke="#e98a32" stroke-width="2.0"/>
<polyline points="619.7,944.6 624.1,944.6 628.5,944.6 632.9,944.6 637.3,944.6 641.7,944.6 646.1,944.6 650.5,944.6 654.9,944.6 659.3,944.6 663.7,944.5 668.1,944.5 672.5,944.5 676.9,944.5 681.3,944.5 685.7,944.4 690.1,944.4 694.5,944.4 698.9,944.3 703.3,944.3 707.7,944.2 712.1,944.1 716.5,944.1 720.9,944.0 725.3,943.9 729.7,943.8 734.1,943.6 738.5,943.5 742.9,943.3 747.4,943.1 751.8,942.9 756.2,942.7 760.6,942.4 765.0,942.1 769.4,941.8 773.8,941.4 778.2,940.9 782.6,940.4 787.0,939.9 791.4,939.2 795.8,938.5 800.2,937.6 804.6,936.7 809.0,935.7 813.4,934.5 817.8,933.2 822.2,931.7 826.6,930.0 831.0,928.2 835.4,926.1 839.8,923.8 844.2,921.3 848.6,918.5 853.0,915.4 857.4,912.0 861.8,908.3 866.2,904.3 870.6,900.0 875.0,895.4 879.4,890.4 883.8,885.2 888.2,879.7 892.6,873.9 897.0,867.9 901.4,861.8 905.8,855.5 910.2,849.1 914.6,842.7 919.0,836.3 923.5,830.0 927.9,823.8 932.3,817.7 936.7,811.9 941.1,806.4 945.5,801.1 949.9,796.1 954.3,791.4 958.7,787.1 963.1,783.0 967.5,779.3 971.9,775.9 976.3,772.7 980.7,769.9 985.1,767.3 989.5,765.0 993.9,762.9 998.3,761.0 1002.7,759.3 1007.1,757.8 1011.5,756.4" fill="none" stroke="#d7282f" stroke-width="2.0"/>
<polyline points="619.7,944.6 624.1,944.6 628.5,944.6 632.9,944.6 637.3,944.6 641.7,944.6 646.1,944.6 650.5,944.6 654.9,944.6 659.3,944.6 663.7,944.5 668.1,944.5 672.5,944.5 676.9,944.5 681.3,944.4 685.7,944.4 690.1,944.4 694.5,944.3 698.9,944.3 703.3,944.2 707.7,944.2 712.1,944.1 716.5,944.0 720.9,943.9 725.3,943.8 729.7,943.7 734.1,943.6 738.5,943.4 742.9,943.3 747.4,943.1 751.8,942.9 756.2,942.6 760.6,942.4 765.0,942.0 769.4,941.7 773.8,941.3 778.2,940.8 782.6,940.3 787.0,939.7 791.4,939.1 795.8,938.4 800.2,937.5 804.6,936.6 809.0,935.5 813.4,934.4 817.8,933.0 822.2,931.6 826.6,929.9 831.0,928.1 835.4,926.0 839.8,923.8 844.2,921.3 848.6,918.5 853.0,915.5 857.4,912.2 861.8,908.6 866.2,904.6 870.6,900.4 875.0,895.9 879.4,891.0 883.8,885.9 888.2,880.5 892.6,874.9 897.0,869.0 901.4,863.0 905.8,856.8 910.2,850.6 914.6,844.3 919.0,838.0 923.5,831.8 927.9,825.7 932.3,819.7 936.7,813.9 941.1,808.4 945.5,803.2 949.9,798.2 954.3,793.5 958.7,789.1 963.1,785.0 967.5,781.3 971.9,777.8 976.3,774.6 980.7,771.8 985.1,769.1 989.5,766.7 993.9,764.6 998.3,762.6 1002.7,760.9 1007.1,759.3 1011.5,757.9" fill="none" stroke="#9a6f2e" stroke-width="2.0"/>
<polyline points="619.7,944.6 624.1,944.6 628.5,944.6 632.9,944.6 637.3,944.6 641.7,944.6 646.1,944.6 650.5,944.6 654.9,944.6 659.3,944.5 663.7,944.5 668.1,944.5 672.5,944.5 676.9,944.5 681.3,944.4 685.7,944.4 690.1,944.4 694.5,944.3 698.9,944.3 703.3,944.2 707.7,944.1 712.1,944.1 716.5,944.0 720.9,943.9 725.3,943.8 729.7,943.7 734.1,943.5 738.5,943.4 742.9,943.2 747.4,943.0 751.8,942.8 756.2,942.6 760.6,942.3 765.0,942.0 769.4,941.6 773.8,941.2 778.2,940.7 782.6,940.2 787.0,939.6 791.4,939.0 795.8,938.3 800.2,937.4 804.6,936.5 809.0,935.4 813.4,934.3 817.8,933.0 822.2,931.5 826.6,929.9 831.0,928.0 835.4,926.0 839.8,923.8 844.2,921.3 848.6,918.6 853.0,915.6 857.4,912.4 861.8,908.9 866.2,905.0 870.6,900.9 875.0,896.5 879.4,891.7 883.8,886.7 888.2,881.5 892.6,875.9 897.0,870.2 901.4,864.3 905.8,858.3 910.2,852.1 914.6,846.0 919.0,839.8 923.5,833.7 927.9,827.6 932.3,821.7 936.7,816.0 941.1,810.5 945.5,805.3 949.9,800.3 954.3,795.6 958.7,791.2 963.1,787.1 967.5,783.3 971.9,779.8 976.3,776.6 980.7,773.6 985.1,770.9 989.5,768.5 993.9,766.3 998.3,764.3 1002.7,762.5 1007.1,760.8 1011.5,759.4" fill="none" stroke="#231f20" stroke-width="2.0"/>
<line x1="770.38" y1="915.49" x2="770.38" y2="924.36" stroke="#c065b5" stroke-width="1.7" /><line x1="765.78" y1="915.49" x2="774.98" y2="915.49" stroke="#c065b5" stroke-width="1.7" /><line x1="765.78" y1="924.36" x2="774.98" y2="924.36" stroke="#c065b5" stroke-width="1.7" />
<line x1="800.52" y1="904.77" x2="800.52" y2="916.60" stroke="#c065b5" stroke-width="1.7" /><line x1="795.92" y1="904.77" x2="805.12" y2="904.77" stroke="#c065b5" stroke-width="1.7" /><line x1="795.92" y1="916.60" x2="805.12" y2="916.60" stroke="#c065b5" stroke-width="1.7" />
<line x1="830.66" y1="874.84" x2="830.66" y2="888.15" stroke="#c065b5" stroke-width="1.7" /><line x1="826.06" y1="874.84" x2="835.26" y2="874.84" stroke="#c065b5" stroke-width="1.7" /><line x1="826.06" y1="888.15" x2="835.26" y2="888.15" stroke="#c065b5" stroke-width="1.7" />
<line x1="860.80" y1="823.11" x2="860.80" y2="836.42" stroke="#c065b5" stroke-width="1.7" /><line x1="856.20" y1="823.11" x2="865.40" y2="823.11" stroke="#c065b5" stroke-width="1.7" /><line x1="856.20" y1="836.42" x2="865.40" y2="836.42" stroke="#c065b5" stroke-width="1.7" />
<line x1="898.48" y1="758.08" x2="898.48" y2="775.82" stroke="#c065b5" stroke-width="1.7" /><line x1="893.88" y1="758.08" x2="903.08" y2="758.08" stroke="#c065b5" stroke-width="1.7" /><line x1="893.88" y1="775.82" x2="903.08" y2="775.82" stroke="#c065b5" stroke-width="1.7" />
<line x1="936.15" y1="725.57" x2="936.15" y2="747.74" stroke="#c065b5" stroke-width="1.7" /><line x1="931.55" y1="725.57" x2="940.75" y2="725.57" stroke="#c065b5" stroke-width="1.7" /><line x1="931.55" y1="747.74" x2="940.75" y2="747.74" stroke="#c065b5" stroke-width="1.7" />
<line x1="973.83" y1="726.31" x2="973.83" y2="741.09" stroke="#c065b5" stroke-width="1.7" /><line x1="969.23" y1="726.31" x2="978.43" y2="726.31" stroke="#c065b5" stroke-width="1.7" /><line x1="969.23" y1="741.09" x2="978.43" y2="741.09" stroke="#c065b5" stroke-width="1.7" />
<line x1="1011.50" y1="717.44" x2="1011.50" y2="726.31" stroke="#c065b5" stroke-width="1.7" /><line x1="1006.90" y1="717.44" x2="1016.10" y2="717.44" stroke="#c065b5" stroke-width="1.7" /><line x1="1006.90" y1="726.31" x2="1016.10" y2="726.31" stroke="#c065b5" stroke-width="1.7" />
<path d="M619.7,936.9L624.5,945.7L614.9,945.7Z" fill="#fff" stroke="#c065b5" stroke-width="1.6" stroke-linejoin="miter"/>
<path d="M649.8,936.9L654.6,945.7L645.0,945.7Z" fill="#fff" stroke="#c065b5" stroke-width="1.6" stroke-linejoin="miter"/>
<path d="M680.0,936.9L684.8,945.7L675.2,945.7Z" fill="#fff" stroke="#c065b5" stroke-width="1.6" stroke-linejoin="miter"/>
<path d="M710.1,936.9L714.9,945.7L705.3,945.7Z" fill="#fff" stroke="#c065b5" stroke-width="1.6" stroke-linejoin="miter"/>
<path d="M740.2,931.7L745.0,940.5L735.4,940.5Z" fill="#fff" stroke="#c065b5" stroke-width="1.6" stroke-linejoin="miter"/>
<path d="M770.4,914.7L775.2,923.5L765.6,923.5Z" fill="#fff" stroke="#c065b5" stroke-width="1.6" stroke-linejoin="miter"/>
<path d="M800.5,905.5L805.3,914.3L795.7,914.3Z" fill="#fff" stroke="#c065b5" stroke-width="1.6" stroke-linejoin="miter"/>
<path d="M830.7,876.3L835.5,885.1L825.9,885.1Z" fill="#fff" stroke="#c065b5" stroke-width="1.6" stroke-linejoin="miter"/>
<path d="M860.8,824.6L865.6,833.4L856.0,833.4Z" fill="#fff" stroke="#c065b5" stroke-width="1.6" stroke-linejoin="miter"/>
<path d="M898.5,761.8L903.3,770.6L893.7,770.6Z" fill="#fff" stroke="#c065b5" stroke-width="1.6" stroke-linejoin="miter"/>
<path d="M936.1,731.5L940.9,740.3L931.4,740.3Z" fill="#fff" stroke="#c065b5" stroke-width="1.6" stroke-linejoin="miter"/>
<path d="M973.8,728.5L978.6,737.3L969.0,737.3Z" fill="#fff" stroke="#c065b5" stroke-width="1.6" stroke-linejoin="miter"/>
<path d="M1011.5,716.7L1016.3,725.5L1006.7,725.5Z" fill="#fff" stroke="#c065b5" stroke-width="1.6" stroke-linejoin="miter"/>
<line x1="830.66" y1="887.04" x2="830.66" y2="895.91" stroke="#2f3ea0" stroke-width="1.7" /><line x1="826.06" y1="887.04" x2="835.26" y2="887.04" stroke="#2f3ea0" stroke-width="1.7" /><line x1="826.06" y1="895.91" x2="835.26" y2="895.91" stroke="#2f3ea0" stroke-width="1.7" />
<line x1="860.80" y1="846.76" x2="860.80" y2="855.63" stroke="#2f3ea0" stroke-width="1.7" /><line x1="856.20" y1="846.76" x2="865.40" y2="846.76" stroke="#2f3ea0" stroke-width="1.7" /><line x1="856.20" y1="855.63" x2="865.40" y2="855.63" stroke="#2f3ea0" stroke-width="1.7" />
<line x1="898.48" y1="771.38" x2="898.48" y2="790.60" stroke="#2f3ea0" stroke-width="1.7" /><line x1="893.88" y1="771.38" x2="903.08" y2="771.38" stroke="#2f3ea0" stroke-width="1.7" /><line x1="893.88" y1="790.60" x2="903.08" y2="790.60" stroke="#2f3ea0" stroke-width="1.7" />
<line x1="936.15" y1="701.18" x2="936.15" y2="727.78" stroke="#2f3ea0" stroke-width="1.7" /><line x1="931.55" y1="701.18" x2="940.75" y2="701.18" stroke="#2f3ea0" stroke-width="1.7" /><line x1="931.55" y1="727.78" x2="940.75" y2="727.78" stroke="#2f3ea0" stroke-width="1.7" />
<line x1="973.83" y1="724.83" x2="973.83" y2="745.52" stroke="#2f3ea0" stroke-width="1.7" /><line x1="969.23" y1="724.83" x2="978.43" y2="724.83" stroke="#2f3ea0" stroke-width="1.7" /><line x1="969.23" y1="745.52" x2="978.43" y2="745.52" stroke="#2f3ea0" stroke-width="1.7" />
<line x1="1011.50" y1="719.65" x2="1011.50" y2="734.43" stroke="#2f3ea0" stroke-width="1.7" /><line x1="1006.90" y1="719.65" x2="1016.10" y2="719.65" stroke="#2f3ea0" stroke-width="1.7" /><line x1="1006.90" y1="734.43" x2="1016.10" y2="734.43" stroke="#2f3ea0" stroke-width="1.7" />
<rect x="615.4" y="935.2" width="8.6" height="8.6" fill="#fff" stroke="#2f3ea0" stroke-width="1.7"/>
<rect x="645.5" y="935.2" width="8.6" height="8.6" fill="#fff" stroke="#2f3ea0" stroke-width="1.7"/>
<rect x="675.7" y="935.6" width="8.6" height="8.6" fill="#fff" stroke="#2f3ea0" stroke-width="1.7"/>
<rect x="705.8" y="935.6" width="8.6" height="8.6" fill="#fff" stroke="#2f3ea0" stroke-width="1.7"/>
<rect x="735.9" y="933.0" width="8.6" height="8.6" fill="#fff" stroke="#2f3ea0" stroke-width="1.7"/>
<rect x="766.1" y="922.3" width="8.6" height="8.6" fill="#fff" stroke="#2f3ea0" stroke-width="1.7"/>
<rect x="796.2" y="913.0" width="8.6" height="8.6" fill="#fff" stroke="#2f3ea0" stroke-width="1.7"/>
<rect x="826.4" y="887.2" width="8.6" height="8.6" fill="#fff" stroke="#2f3ea0" stroke-width="1.7"/>
<rect x="856.5" y="846.9" width="8.6" height="8.6" fill="#fff" stroke="#2f3ea0" stroke-width="1.7"/>
<rect x="894.2" y="776.7" width="8.6" height="8.6" fill="#fff" stroke="#2f3ea0" stroke-width="1.7"/>
<rect x="931.9" y="710.2" width="8.6" height="8.6" fill="#fff" stroke="#2f3ea0" stroke-width="1.7"/>
<rect x="969.5" y="730.9" width="8.6" height="8.6" fill="#fff" stroke="#2f3ea0" stroke-width="1.7"/>
<rect x="1007.2" y="722.7" width="8.6" height="8.6" fill="#fff" stroke="#2f3ea0" stroke-width="1.7"/>
<line x1="860.80" y1="878.54" x2="860.80" y2="885.93" stroke="#3b8b45" stroke-width="1.7" /><line x1="856.20" y1="878.54" x2="865.40" y2="878.54" stroke="#3b8b45" stroke-width="1.7" /><line x1="856.20" y1="885.93" x2="865.40" y2="885.93" stroke="#3b8b45" stroke-width="1.7" />
<line x1="898.48" y1="807.60" x2="898.48" y2="822.38" stroke="#3b8b45" stroke-width="1.7" /><line x1="893.88" y1="807.60" x2="903.08" y2="807.60" stroke="#3b8b45" stroke-width="1.7" /><line x1="893.88" y1="822.38" x2="903.08" y2="822.38" stroke="#3b8b45" stroke-width="1.7" />
<line x1="936.15" y1="745.52" x2="936.15" y2="767.69" stroke="#3b8b45" stroke-width="1.7" /><line x1="931.55" y1="745.52" x2="940.75" y2="745.52" stroke="#3b8b45" stroke-width="1.7" /><line x1="931.55" y1="767.69" x2="940.75" y2="767.69" stroke="#3b8b45" stroke-width="1.7" />
<line x1="973.83" y1="743.30" x2="973.83" y2="758.08" stroke="#3b8b45" stroke-width="1.7" /><line x1="969.23" y1="743.30" x2="978.43" y2="743.30" stroke="#3b8b45" stroke-width="1.7" /><line x1="969.23" y1="758.08" x2="978.43" y2="758.08" stroke="#3b8b45" stroke-width="1.7" />
<line x1="1011.50" y1="736.65" x2="1011.50" y2="751.43" stroke="#3b8b45" stroke-width="1.7" /><line x1="1006.90" y1="736.65" x2="1016.10" y2="736.65" stroke="#3b8b45" stroke-width="1.7" /><line x1="1006.90" y1="751.43" x2="1016.10" y2="751.43" stroke="#3b8b45" stroke-width="1.7" />
<circle cx="619.7" cy="942.8" r="4.40" fill="#fff" stroke="#3b8b45" stroke-width="1.7"/>
<circle cx="649.8" cy="942.8" r="4.40" fill="#fff" stroke="#3b8b45" stroke-width="1.7"/>
<circle cx="680.0" cy="942.8" r="4.40" fill="#fff" stroke="#3b8b45" stroke-width="1.7"/>
<circle cx="710.1" cy="942.8" r="4.40" fill="#fff" stroke="#3b8b45" stroke-width="1.7"/>
<circle cx="740.2" cy="939.9" r="4.40" fill="#fff" stroke="#3b8b45" stroke-width="1.7"/>
<circle cx="770.4" cy="930.6" r="4.40" fill="#fff" stroke="#3b8b45" stroke-width="1.7"/>
<circle cx="800.5" cy="928.1" r="4.40" fill="#fff" stroke="#3b8b45" stroke-width="1.7"/>
<circle cx="830.7" cy="911.8" r="4.40" fill="#fff" stroke="#3b8b45" stroke-width="1.7"/>
<circle cx="860.8" cy="882.2" r="4.40" fill="#fff" stroke="#3b8b45" stroke-width="1.7"/>
<circle cx="898.5" cy="815.0" r="4.40" fill="#fff" stroke="#3b8b45" stroke-width="1.7"/>
<circle cx="936.1" cy="756.6" r="4.40" fill="#fff" stroke="#3b8b45" stroke-width="1.7"/>
<circle cx="973.8" cy="750.7" r="4.40" fill="#fff" stroke="#3b8b45" stroke-width="1.7"/>
<circle cx="1011.5" cy="744.0" r="4.40" fill="#fff" stroke="#3b8b45" stroke-width="1.7"/>
<line x1="860.80" y1="891.84" x2="860.80" y2="899.23" stroke="#7dc143" stroke-width="1.7" /><line x1="856.20" y1="891.84" x2="865.40" y2="891.84" stroke="#7dc143" stroke-width="1.7" /><line x1="856.20" y1="899.23" x2="865.40" y2="899.23" stroke="#7dc143" stroke-width="1.7" />
<line x1="898.48" y1="828.29" x2="898.48" y2="844.55" stroke="#7dc143" stroke-width="1.7" /><line x1="893.88" y1="828.29" x2="903.08" y2="828.29" stroke="#7dc143" stroke-width="1.7" /><line x1="893.88" y1="844.55" x2="903.08" y2="844.55" stroke="#7dc143" stroke-width="1.7" />
<line x1="936.15" y1="764.73" x2="936.15" y2="782.47" stroke="#7dc143" stroke-width="1.7" /><line x1="931.55" y1="764.73" x2="940.75" y2="764.73" stroke="#7dc143" stroke-width="1.7" /><line x1="931.55" y1="782.47" x2="940.75" y2="782.47" stroke="#7dc143" stroke-width="1.7" />
<line x1="973.83" y1="749.95" x2="973.83" y2="764.73" stroke="#7dc143" stroke-width="1.7" /><line x1="969.23" y1="749.95" x2="978.43" y2="749.95" stroke="#7dc143" stroke-width="1.7" /><line x1="969.23" y1="764.73" x2="978.43" y2="764.73" stroke="#7dc143" stroke-width="1.7" />
<line x1="1011.50" y1="742.56" x2="1011.50" y2="757.34" stroke="#7dc143" stroke-width="1.7" /><line x1="1006.90" y1="742.56" x2="1016.10" y2="742.56" stroke="#7dc143" stroke-width="1.7" /><line x1="1006.90" y1="757.34" x2="1016.10" y2="757.34" stroke="#7dc143" stroke-width="1.7" />
<path d="M619.7,938.6L624.3,943.6L619.7,948.6L615.1,943.6Z" fill="#7dc143"/>
<path d="M649.8,938.6L654.4,943.6L649.8,948.6L645.2,943.6Z" fill="#7dc143"/>
<path d="M680.0,938.6L684.6,943.6L680.0,948.6L675.4,943.6Z" fill="#7dc143"/>
<path d="M710.1,938.6L714.7,943.6L710.1,948.6L705.5,943.6Z" fill="#7dc143"/>
<path d="M740.2,936.4L744.8,941.4L740.2,946.4L735.6,941.4Z" fill="#7dc143"/>
<path d="M770.4,930.4L775.0,935.4L770.4,940.4L765.8,935.4Z" fill="#7dc143"/>
<path d="M800.5,927.5L805.1,932.5L800.5,937.5L795.9,932.5Z" fill="#7dc143"/>
<path d="M830.7,912.3L835.3,917.3L830.7,922.3L826.1,917.3Z" fill="#7dc143"/>
<path d="M860.8,890.5L865.4,895.5L860.8,900.5L856.2,895.5Z" fill="#7dc143"/>
<path d="M898.5,831.4L903.1,836.4L898.5,841.4L893.9,836.4Z" fill="#7dc143"/>
<path d="M936.1,768.6L940.8,773.6L936.1,778.6L931.5,773.6Z" fill="#7dc143"/>
<path d="M973.8,752.3L978.4,757.3L973.8,762.3L969.2,757.3Z" fill="#7dc143"/>
<path d="M1011.5,745.0L1016.1,750.0L1011.5,755.0L1006.9,750.0Z" fill="#7dc143"/>
<line x1="898.48" y1="855.63" x2="898.48" y2="865.98" stroke="#e98a32" stroke-width="1.7" /><line x1="893.88" y1="855.63" x2="903.08" y2="855.63" stroke="#e98a32" stroke-width="1.7" /><line x1="893.88" y1="865.98" x2="903.08" y2="865.98" stroke="#e98a32" stroke-width="1.7" />
<line x1="936.15" y1="792.82" x2="936.15" y2="807.60" stroke="#e98a32" stroke-width="1.7" /><line x1="931.55" y1="792.82" x2="940.75" y2="792.82" stroke="#e98a32" stroke-width="1.7" /><line x1="931.55" y1="807.60" x2="940.75" y2="807.60" stroke="#e98a32" stroke-width="1.7" />
<line x1="973.83" y1="762.52" x2="973.83" y2="777.30" stroke="#e98a32" stroke-width="1.7" /><line x1="969.23" y1="762.52" x2="978.43" y2="762.52" stroke="#e98a32" stroke-width="1.7" /><line x1="969.23" y1="777.30" x2="978.43" y2="777.30" stroke="#e98a32" stroke-width="1.7" />
<path d="M619.7,950.1L624.9,940.5L614.5,940.5Z" fill="#e98a32"/>
<path d="M649.8,950.1L655.0,940.5L644.6,940.5Z" fill="#e98a32"/>
<path d="M680.0,950.1L685.2,940.5L674.8,940.5Z" fill="#e98a32"/>
<path d="M710.1,950.1L715.3,940.5L704.9,940.5Z" fill="#e98a32"/>
<path d="M740.2,947.9L745.4,938.3L735.0,938.3Z" fill="#e98a32"/>
<path d="M770.4,943.5L775.6,933.9L765.2,933.9Z" fill="#e98a32"/>
<path d="M800.5,941.2L805.7,931.6L795.3,931.6Z" fill="#e98a32"/>
<path d="M830.7,928.7L835.9,919.1L825.5,919.1Z" fill="#e98a32"/>
<path d="M860.8,909.1L866.0,899.5L855.6,899.5Z" fill="#e98a32"/>
<path d="M898.5,866.6L903.7,857.0L893.3,857.0Z" fill="#e98a32"/>
<path d="M936.1,806.0L941.4,796.4L930.9,796.4Z" fill="#e98a32"/>
<path d="M973.8,775.7L979.0,766.1L968.6,766.1Z" fill="#e98a32"/>
<path d="M1011.5,765.4L1016.7,755.8L1006.3,755.8Z" fill="#e98a32"/>
<line x1="936.15" y1="786.90" x2="936.15" y2="819.42" stroke="#d7282f" stroke-width="1.7" /><line x1="931.55" y1="786.90" x2="940.75" y2="786.90" stroke="#d7282f" stroke-width="1.7" /><line x1="931.55" y1="819.42" x2="940.75" y2="819.42" stroke="#d7282f" stroke-width="1.7" />
<line x1="973.83" y1="757.34" x2="973.83" y2="786.90" stroke="#d7282f" stroke-width="1.7" /><line x1="969.23" y1="757.34" x2="978.43" y2="757.34" stroke="#d7282f" stroke-width="1.7" /><line x1="969.23" y1="786.90" x2="978.43" y2="786.90" stroke="#d7282f" stroke-width="1.7" />
<line x1="1011.50" y1="731.48" x2="1011.50" y2="753.65" stroke="#d7282f" stroke-width="1.7" /><line x1="1006.90" y1="731.48" x2="1016.10" y2="731.48" stroke="#d7282f" stroke-width="1.7" /><line x1="1006.90" y1="753.65" x2="1016.10" y2="753.65" stroke="#d7282f" stroke-width="1.7" />
<path d="M619.7,937.8L624.9,947.4L614.5,947.4Z" fill="#d7282f"/>
<path d="M649.8,937.8L655.0,947.4L644.6,947.4Z" fill="#d7282f"/>
<path d="M680.0,937.8L685.2,947.4L674.8,947.4Z" fill="#d7282f"/>
<path d="M710.1,937.8L715.3,947.4L704.9,947.4Z" fill="#d7282f"/>
<path d="M740.2,936.3L745.4,945.9L735.0,945.9Z" fill="#d7282f"/>
<path d="M770.4,932.6L775.6,942.2L765.2,942.2Z" fill="#d7282f"/>
<path d="M800.5,931.1L805.7,940.7L795.3,940.7Z" fill="#d7282f"/>
<path d="M830.7,921.5L835.9,931.1L825.5,931.1Z" fill="#d7282f"/>
<path d="M860.8,899.3L866.0,908.9L855.6,908.9Z" fill="#d7282f"/>
<path d="M898.5,856.5L903.7,866.1L893.3,866.1Z" fill="#d7282f"/>
<path d="M936.1,797.4L941.4,807.0L930.9,807.0Z" fill="#d7282f"/>
<path d="M973.8,766.3L979.0,775.9L968.6,775.9Z" fill="#d7282f"/>
<path d="M1011.5,736.8L1016.7,746.4L1006.3,746.4Z" fill="#d7282f"/>
<line x1="936.15" y1="803.16" x2="936.15" y2="817.94" stroke="#9a6f2e" stroke-width="1.7" /><line x1="931.55" y1="803.16" x2="940.75" y2="803.16" stroke="#9a6f2e" stroke-width="1.7" /><line x1="931.55" y1="817.94" x2="940.75" y2="817.94" stroke="#9a6f2e" stroke-width="1.7" />
<line x1="973.83" y1="761.04" x2="973.83" y2="783.21" stroke="#9a6f2e" stroke-width="1.7" /><line x1="969.23" y1="761.04" x2="978.43" y2="761.04" stroke="#9a6f2e" stroke-width="1.7" /><line x1="969.23" y1="783.21" x2="978.43" y2="783.21" stroke="#9a6f2e" stroke-width="1.7" />
<line x1="1011.50" y1="759.56" x2="1011.50" y2="774.34" stroke="#9a6f2e" stroke-width="1.7" /><line x1="1006.90" y1="759.56" x2="1016.10" y2="759.56" stroke="#9a6f2e" stroke-width="1.7" /><line x1="1006.90" y1="774.34" x2="1016.10" y2="774.34" stroke="#9a6f2e" stroke-width="1.7" />
<rect x="615.1" y="938.2" width="9.2" height="9.2" fill="#9a6f2e"/>
<rect x="645.2" y="938.2" width="9.2" height="9.2" fill="#9a6f2e"/>
<rect x="675.4" y="938.2" width="9.2" height="9.2" fill="#9a6f2e"/>
<rect x="705.5" y="938.2" width="9.2" height="9.2" fill="#9a6f2e"/>
<rect x="735.6" y="937.5" width="9.2" height="9.2" fill="#9a6f2e"/>
<rect x="765.8" y="934.5" width="9.2" height="9.2" fill="#9a6f2e"/>
<rect x="795.9" y="933.1" width="9.2" height="9.2" fill="#9a6f2e"/>
<rect x="826.1" y="925.7" width="9.2" height="9.2" fill="#9a6f2e"/>
<rect x="856.2" y="908.7" width="9.2" height="9.2" fill="#9a6f2e"/>
<rect x="893.9" y="863.6" width="9.2" height="9.2" fill="#9a6f2e"/>
<rect x="931.5" y="806.0" width="9.2" height="9.2" fill="#9a6f2e"/>
<rect x="969.2" y="767.5" width="9.2" height="9.2" fill="#9a6f2e"/>
<rect x="1006.9" y="762.4" width="9.2" height="9.2" fill="#9a6f2e"/>
<line x1="860.80" y1="913.57" x2="860.80" y2="919.48" stroke="#231f20" stroke-width="1.7" /><line x1="856.20" y1="913.57" x2="865.40" y2="913.57" stroke="#231f20" stroke-width="1.7" /><line x1="856.20" y1="919.48" x2="865.40" y2="919.48" stroke="#231f20" stroke-width="1.7" />
<line x1="898.48" y1="869.67" x2="898.48" y2="878.54" stroke="#231f20" stroke-width="1.7" /><line x1="893.88" y1="869.67" x2="903.08" y2="869.67" stroke="#231f20" stroke-width="1.7" /><line x1="893.88" y1="878.54" x2="903.08" y2="878.54" stroke="#231f20" stroke-width="1.7" />
<line x1="936.15" y1="820.16" x2="936.15" y2="837.89" stroke="#231f20" stroke-width="1.7" /><line x1="931.55" y1="820.16" x2="940.75" y2="820.16" stroke="#231f20" stroke-width="1.7" /><line x1="931.55" y1="837.89" x2="940.75" y2="837.89" stroke="#231f20" stroke-width="1.7" />
<line x1="973.83" y1="783.95" x2="973.83" y2="804.64" stroke="#231f20" stroke-width="1.7" /><line x1="969.23" y1="783.95" x2="978.43" y2="783.95" stroke="#231f20" stroke-width="1.7" /><line x1="969.23" y1="804.64" x2="978.43" y2="804.64" stroke="#231f20" stroke-width="1.7" />
<line x1="1011.50" y1="755.87" x2="1011.50" y2="770.65" stroke="#231f20" stroke-width="1.7" /><line x1="1006.90" y1="755.87" x2="1016.10" y2="755.87" stroke="#231f20" stroke-width="1.7" /><line x1="1006.90" y1="770.65" x2="1016.10" y2="770.65" stroke="#231f20" stroke-width="1.7" />
<circle cx="619.7" cy="944.8" r="5.30" fill="#231f20"/>
<circle cx="649.8" cy="944.8" r="5.30" fill="#231f20"/>
<circle cx="680.0" cy="944.8" r="5.30" fill="#231f20"/>
<circle cx="710.1" cy="944.8" r="5.30" fill="#231f20"/>
<circle cx="740.2" cy="943.2" r="5.30" fill="#231f20"/>
<circle cx="770.4" cy="940.0" r="5.30" fill="#231f20"/>
<circle cx="800.5" cy="939.2" r="5.30" fill="#231f20"/>
<circle cx="830.7" cy="931.5" r="5.30" fill="#231f20"/>
<circle cx="860.8" cy="916.5" r="5.30" fill="#231f20"/>
<circle cx="898.5" cy="874.1" r="5.30" fill="#231f20"/>
<circle cx="936.1" cy="829.0" r="5.30" fill="#231f20"/>
<circle cx="973.8" cy="794.3" r="5.30" fill="#231f20"/>
<circle cx="1011.5" cy="763.3" r="5.30" fill="#231f20"/>
<text x="8.6" y="593.2" font-size="33" text-anchor="start" fill="#231f20" font-weight="bold" stroke="#231f20" stroke-width="1.1" transform="scale(1.06,1)">c</text>
<text x="95.2" y="590.8" font-size="21" text-anchor="middle" fill="#231f20" letter-spacing="0.1">Lorazepam</text>
<text x="299.3" y="590.8" font-size="21" text-anchor="middle" fill="#231f20" letter-spacing="0.1">Desmethyldiazepam</text>
<text x="160.3" y="741.0" font-size="21" text-anchor="middle" fill="#231f20" letter-spacing="0.1">Active</text>
<text x="361.5" y="740.5" font-size="21" text-anchor="middle" fill="#231f20" letter-spacing="0.1">Active</text>
<text x="68.5" y="809.2" font-size="21" text-anchor="middle" fill="#231f20" letter-spacing="0.1">Diazepam</text>
<text x="211.0" y="809.2" font-size="21" text-anchor="middle" fill="#231f20" letter-spacing="0.1">Flunitrazepam</text>
<text x="386.4" y="809.2" font-size="21" text-anchor="middle" fill="#231f20" letter-spacing="0.1">4-Chlorodiazepam</text>
<text x="69.6" y="1044.0" font-size="21" text-anchor="middle" fill="#231f20" letter-spacing="0.1">Less active</text>
<text x="223.7" y="1044.0" font-size="21" text-anchor="middle" fill="#231f20" letter-spacing="0.1">Less active</text>
<text x="383.8" y="1044.0" font-size="21" text-anchor="middle" fill="#231f20" letter-spacing="0.1">Inactive</text>
<line x1="61.00" y1="635.20" x2="79.79" y2="646.05" stroke="#231f20" stroke-width="1.5" stroke-linecap="butt"/>
<line x1="79.79" y1="646.05" x2="79.79" y2="667.75" stroke="#231f20" stroke-width="1.5" stroke-linecap="butt"/>
<line x1="79.79" y1="667.75" x2="61.00" y2="678.60" stroke="#231f20" stroke-width="1.5" stroke-linecap="butt"/>
<line x1="61.00" y1="678.60" x2="42.21" y2="667.75" stroke="#231f20" stroke-width="1.5" stroke-linecap="butt"/>
<line x1="42.21" y1="667.75" x2="42.21" y2="646.05" stroke="#231f20" stroke-width="1.5" stroke-linecap="butt"/>
<line x1="42.21" y1="646.05" x2="61.00" y2="635.20" stroke="#231f20" stroke-width="1.5" stroke-linecap="butt"/>
<line x1="47.16" y1="647.69" x2="59.94" y2="640.31" stroke="#231f20" stroke-width="1.5" stroke-linecap="butt"/>
<line x1="75.89" y1="649.52" x2="75.89" y2="664.28" stroke="#231f20" stroke-width="1.5" stroke-linecap="butt"/>
<line x1="47.16" y1="666.11" x2="59.94" y2="673.49" stroke="#231f20" stroke-width="1.5" stroke-linecap="butt"/>
<line x1="79.79" y1="646.05" x2="83.45" y2="642.78" stroke="#231f20" stroke-width="1.5" stroke-linecap="butt"/>
<line x1="83.45" y1="642.78" x2="87.10" y2="639.51" stroke="#2e3192" stroke-width="1.5" stroke-linecap="butt"/>
<line x1="104.78" y1="634.26" x2="110.99" y2="635.22" stroke="#2e3192" stroke-width="1.5" stroke-linecap="butt"/>
<line x1="110.99" y1="635.22" x2="117.20" y2="636.18" stroke="#231f20" stroke-width="1.5" stroke-linecap="butt"/>
<line x1="117.20" y1="636.18" x2="125.99" y2="655.88" stroke="#231f20" stroke-width="1.5" stroke-linecap="butt"/>
<line x1="125.99" y1="655.88" x2="123.80" y2="660.75" stroke="#231f20" stroke-width="1.5" stroke-linecap="butt"/>
<line x1="123.80" y1="660.75" x2="121.61" y2="665.61" stroke="#2e3192" stroke-width="1.5" stroke-linecap="butt"/>
<line x1="107.49" y1="677.24" x2="102.26" y2="678.46" stroke="#2e3192" stroke-width="1.5" stroke-linecap="butt"/>
<line x1="102.26" y1="678.46" x2="97.02" y2="679.69" stroke="#231f20" stroke-width="1.5" stroke-linecap="butt"/>
<line x1="97.32" y1="675.71" x2="106.04" y2="673.67" stroke="#231f20" stroke-width="1.5" stroke-linecap="butt"/>
<line x1="97.02" y1="679.69" x2="79.79" y2="667.75" stroke="#231f20" stroke-width="1.5" stroke-linecap="butt"/>
<line x1="117.20" y1="636.18" x2="119.94" y2="631.03" stroke="#231f20" stroke-width="1.5" stroke-linecap="butt"/>
<line x1="119.94" y1="631.03" x2="122.68" y2="625.88" stroke="#d2232a" stroke-width="1.5" stroke-linecap="butt"/>
<line x1="121.32" y1="636.10" x2="123.59" y2="631.84" stroke="#231f20" stroke-width="1.5" stroke-linecap="butt"/>
<line x1="123.59" y1="631.84" x2="125.86" y2="627.58" stroke="#d2232a" stroke-width="1.5" stroke-linecap="butt"/>
<line x1="97.02" y1="679.69" x2="91.90" y2="701.91" stroke="#231f20" stroke-width="1.5" stroke-linecap="butt"/>
<line x1="91.90" y1="701.91" x2="107.24" y2="717.25" stroke="#231f20" stroke-width="1.5" stroke-linecap="butt"/>
<line x1="107.24" y1="717.25" x2="101.62" y2="738.21" stroke="#231f20" stroke-width="1.5" stroke-linecap="butt"/>
<line x1="101.62" y1="738.21" x2="80.66" y2="743.83" stroke="#231f20" stroke-width="1.5" stroke-linecap="butt"/>
<line x1="80.66" y1="743.83" x2="65.32" y2="728.48" stroke="#231f20" stroke-width="1.5" stroke-linecap="butt"/>
<line x1="65.32" y1="728.48" x2="70.94" y2="707.52" stroke="#231f20" stroke-width="1.5" stroke-linecap="butt"/>
<line x1="70.94" y1="707.52" x2="91.90" y2="701.91" stroke="#231f20" stroke-width="1.5" stroke-linecap="butt"/>
<line x1="75.30" y1="710.39" x2="89.55" y2="706.57" stroke="#231f20" stroke-width="1.5" stroke-linecap="butt"/>
<line x1="102.58" y1="719.60" x2="98.76" y2="733.85" stroke="#231f20" stroke-width="1.5" stroke-linecap="butt"/>
<line x1="80.97" y1="738.62" x2="70.53" y2="728.18" stroke="#231f20" stroke-width="1.5" stroke-linecap="butt"/>
<text x="94.7" y="638.4" font-size="16.5" font-weight="bold" fill="#2e3192" text-anchor="middle">N</text>
<text x="117.4" y="680.6" font-size="16.5" font-weight="bold" fill="#2e3192" text-anchor="middle">N</text>
<text x="127.0" y="623.5" font-size="16.5" font-weight="bold" fill="#d2232a" text-anchor="middle">O</text>
<line x1="42.21" y1="667.75" x2="38.26" y2="670.03" stroke="#231f20" stroke-width="1.5" stroke-linecap="butt"/>
<line x1="38.26" y1="670.03" x2="34.31" y2="672.31" stroke="#3d9a48" stroke-width="1.5" stroke-linecap="butt"/>
<text x="23.5" y="684.3" font-size="16.5" font-weight="bold" fill="#3d9a48" text-anchor="middle">Cl</text>
<text x="94.3" y="623.6" font-size="16.5" font-weight="bold" fill="#2e3192" text-anchor="middle">H</text>
<line x1="125.99" y1="655.88" x2="131.79" y2="655.88" stroke="#231f20" stroke-width="1.5" stroke-linecap="butt"/>
<line x1="131.79" y1="655.88" x2="137.69" y2="655.88" stroke="#d2232a" stroke-width="1.5" stroke-linecap="butt"/>
<text x="141.4" y="661.6" font-size="16.5" font-weight="bold" fill="#d2232a" text-anchor="start">OH</text>
<line x1="107.24" y1="717.25" x2="111.96" y2="715.99" stroke="#231f20" stroke-width="1.5" stroke-linecap="butt"/>
<line x1="111.96" y1="715.99" x2="116.67" y2="714.72" stroke="#3d9a48" stroke-width="1.5" stroke-linecap="butt"/>
<text x="127.0" y="717.6" font-size="16.5" font-weight="bold" fill="#3d9a48" text-anchor="middle">Cl</text>
<line x1="272.00" y1="636.00" x2="290.79" y2="646.85" stroke="#231f20" stroke-width="1.5" stroke-linecap="butt"/>
<line x1="290.79" y1="646.85" x2="290.79" y2="668.55" stroke="#231f20" stroke-width="1.5" stroke-linecap="butt"/>
<line x1="290.79" y1="668.55" x2="272.00" y2="679.40" stroke="#231f20" stroke-width="1.5" stroke-linecap="butt"/>
<line x1="272.00" y1="679.40" x2="253.21" y2="668.55" stroke="#231f20" stroke-width="1.5" stroke-linecap="butt"/>
<line x1="253.21" y1="668.55" x2="253.21" y2="646.85" stroke="#231f20" stroke-width="1.5" stroke-linecap="butt"/>
<line x1="253.21" y1="646.85" x2="272.00" y2="636.00" stroke="#231f20" stroke-width="1.5" stroke-linecap="butt"/>
<line x1="258.16" y1="648.49" x2="270.94" y2="641.11" stroke="#231f20" stroke-width="1.5" stroke-linecap="butt"/>
<line x1="286.89" y1="650.32" x2="286.89" y2="665.08" stroke="#231f20" stroke-width="1.5" stroke-linecap="butt"/>
<line x1="258.16" y1="666.91" x2="270.94" y2="674.29" stroke="#231f20" stroke-width="1.5" stroke-linecap="butt"/>
<line x1="290.79" y1="646.85" x2="294.45" y2="643.58" stroke="#231f20" stroke-width="1.5" stroke-linecap="butt"/>
<line x1="294.45" y1="643.58" x2="298.10" y2="640.31" stroke="#2e3192" stroke-width="1.5" stroke-linecap="butt"/>
<line x1="315.78" y1="635.06" x2="321.99" y2="636.02" stroke="#2e3192" stroke-width="1.5" stroke-linecap="butt"/>
<line x1="321.99" y1="636.02" x2="328.20" y2="636.98" stroke="#231f20" stroke-width="1.5" stroke-linecap="butt"/>
<line x1="328.20" y1="636.98" x2="336.99" y2="656.68" stroke="#231f20" stroke-width="1.5" stroke-linecap="butt"/>
<line x1="336.99" y1="656.68" x2="334.80" y2="661.55" stroke="#231f20" stroke-width="1.5" stroke-linecap="butt"/>
<line x1="334.80" y1="661.55" x2="332.61" y2="666.41" stroke="#2e3192" stroke-width="1.5" stroke-linecap="butt"/>
<line x1="318.49" y1="678.04" x2="313.26" y2="679.26" stroke="#2e3192" stroke-width="1.5" stroke-linecap="butt"/>
<line x1="313.26" y1="679.26" x2="308.02" y2="680.49" stroke="#231f20" stroke-width="1.5" stroke-linecap="butt"/>
<line x1="308.32" y1="676.51" x2="317.04" y2="674.47" stroke="#231f20" stroke-width="1.5" stroke-linecap="butt"/>
<line x1="308.02" y1="680.49" x2="290.79" y2="668.55" stroke="#231f20" stroke-width="1.5" stroke-linecap="butt"/>
<line x1="328.20" y1="636.98" x2="330.94" y2="631.83" stroke="#231f20" stroke-width="1.5" stroke-linecap="butt"/>
<line x1="330.94" y1="631.83" x2="333.68" y2="626.68" stroke="#d2232a" stroke-width="1.5" stroke-linecap="butt"/>
<line x1="332.32" y1="636.90" x2="334.59" y2="632.64" stroke="#231f20" stroke-width="1.5" stroke-linecap="butt"/>
<line x1="334.59" y1="632.64" x2="336.86" y2="628.38" stroke="#d2232a" stroke-width="1.5" stroke-linecap="butt"/>
<line x1="308.02" y1="680.49" x2="302.90" y2="702.71" stroke="#231f20" stroke-width="1.5" stroke-linecap="butt"/>
<line x1="302.90" y1="702.71" x2="318.24" y2="718.05" stroke="#231f20" stroke-width="1.5" stroke-linecap="butt"/>
<line x1="318.24" y1="718.05" x2="312.62" y2="739.01" stroke="#231f20" stroke-width="1.5" stroke-linecap="butt"/>
<line x1="312.62" y1="739.01" x2="291.66" y2="744.63" stroke="#231f20" stroke-width="1.5" stroke-linecap="butt"/>
<line x1="291.66" y1="744.63" x2="276.32" y2="729.28" stroke="#231f20" stroke-width="1.5" stroke-linecap="butt"/>
<line x1="276.32" y1="729.28" x2="281.94" y2="708.32" stroke="#231f20" stroke-width="1.5" stroke-linecap="butt"/>
<line x1="281.94" y1="708.32" x2="302.90" y2="702.71" stroke="#231f20" stroke-width="1.5" stroke-linecap="butt"/>
<line x1="286.30" y1="711.19" x2="300.55" y2="707.37" stroke="#231f20" stroke-width="1.5" stroke-linecap="butt"/>
<line x1="313.58" y1="720.40" x2="309.76" y2="734.65" stroke="#231f20" stroke-width="1.5" stroke-linecap="butt"/>
<line x1="291.97" y1="739.42" x2="281.53" y2="728.98" stroke="#231f20" stroke-width="1.5" stroke-linecap="butt"/>
<text x="305.7" y="639.2" font-size="16.5" font-weight="bold" fill="#2e3192" text-anchor="middle">N</text>
<text x="328.4" y="681.4" font-size="16.5" font-weight="bold" fill="#2e3192" text-anchor="middle">N</text>
<text x="338.0" y="624.3" font-size="16.5" font-weight="bold" fill="#d2232a" text-anchor="middle">O</text>
<line x1="253.21" y1="668.55" x2="249.26" y2="670.83" stroke="#231f20" stroke-width="1.5" stroke-linecap="butt"/>
<line x1="249.26" y1="670.83" x2="245.31" y2="673.11" stroke="#3d9a48" stroke-width="1.5" stroke-linecap="butt"/>
<text x="234.5" y="685.1" font-size="16.5" font-weight="bold" fill="#3d9a48" text-anchor="middle">Cl</text>
<text x="305.3" y="624.4" font-size="16.5" font-weight="bold" fill="#2e3192" text-anchor="middle">H</text>
<line x1="45.60" y1="882.90" x2="64.39" y2="893.75" stroke="#231f20" stroke-width="1.5" stroke-linecap="butt"/>
<line x1="64.39" y1="893.75" x2="64.39" y2="915.45" stroke="#231f20" stroke-width="1.5" stroke-linecap="butt"/>
<line x1="64.39" y1="915.45" x2="45.60" y2="926.30" stroke="#231f20" stroke-width="1.5" stroke-linecap="butt"/>
<line x1="45.60" y1="926.30" x2="26.81" y2="915.45" stroke="#231f20" stroke-width="1.5" stroke-linecap="butt"/>
<line x1="26.81" y1="915.45" x2="26.81" y2="893.75" stroke="#231f20" stroke-width="1.5" stroke-linecap="butt"/>
<line x1="26.81" y1="893.75" x2="45.60" y2="882.90" stroke="#231f20" stroke-width="1.5" stroke-linecap="butt"/>
<line x1="31.76" y1="895.39" x2="44.54" y2="888.01" stroke="#231f20" stroke-width="1.5" stroke-linecap="butt"/>
<line x1="60.49" y1="897.22" x2="60.49" y2="911.98" stroke="#231f20" stroke-width="1.5" stroke-linecap="butt"/>
<line x1="31.76" y1="913.81" x2="44.54" y2="921.19" stroke="#231f20" stroke-width="1.5" stroke-linecap="butt"/>
<line x1="64.39" y1="893.75" x2="68.05" y2="890.48" stroke="#231f20" stroke-width="1.5" stroke-linecap="butt"/>
<line x1="68.05" y1="890.48" x2="71.70" y2="887.21" stroke="#2e3192" stroke-width="1.5" stroke-linecap="butt"/>
<line x1="89.38" y1="881.96" x2="95.59" y2="882.92" stroke="#2e3192" stroke-width="1.5" stroke-linecap="butt"/>
<line x1="95.59" y1="882.92" x2="101.80" y2="883.88" stroke="#231f20" stroke-width="1.5" stroke-linecap="butt"/>
<line x1="101.80" y1="883.88" x2="110.59" y2="903.58" stroke="#231f20" stroke-width="1.5" stroke-linecap="butt"/>
<line x1="110.59" y1="903.58" x2="108.40" y2="908.45" stroke="#231f20" stroke-width="1.5" stroke-linecap="butt"/>
<line x1="108.40" y1="908.45" x2="106.21" y2="913.31" stroke="#2e3192" stroke-width="1.5" stroke-linecap="butt"/>
<line x1="92.09" y1="924.94" x2="86.86" y2="926.16" stroke="#2e3192" stroke-width="1.5" stroke-linecap="butt"/>
<line x1="86.86" y1="926.16" x2="81.62" y2="927.38" stroke="#231f20" stroke-width="1.5" stroke-linecap="butt"/>
<line x1="81.92" y1="923.41" x2="90.64" y2="921.37" stroke="#231f20" stroke-width="1.5" stroke-linecap="butt"/>
<line x1="81.62" y1="927.38" x2="64.39" y2="915.45" stroke="#231f20" stroke-width="1.5" stroke-linecap="butt"/>
<line x1="101.80" y1="883.88" x2="104.54" y2="878.73" stroke="#231f20" stroke-width="1.5" stroke-linecap="butt"/>
<line x1="104.54" y1="878.73" x2="107.28" y2="873.58" stroke="#d2232a" stroke-width="1.5" stroke-linecap="butt"/>
<line x1="105.92" y1="883.80" x2="108.19" y2="879.54" stroke="#231f20" stroke-width="1.5" stroke-linecap="butt"/>
<line x1="108.19" y1="879.54" x2="110.46" y2="875.28" stroke="#d2232a" stroke-width="1.5" stroke-linecap="butt"/>
<line x1="81.62" y1="927.38" x2="76.50" y2="949.61" stroke="#231f20" stroke-width="1.5" stroke-linecap="butt"/>
<line x1="76.50" y1="949.61" x2="91.84" y2="964.95" stroke="#231f20" stroke-width="1.5" stroke-linecap="butt"/>
<line x1="91.84" y1="964.95" x2="86.22" y2="985.91" stroke="#231f20" stroke-width="1.5" stroke-linecap="butt"/>
<line x1="86.22" y1="985.91" x2="65.26" y2="991.53" stroke="#231f20" stroke-width="1.5" stroke-linecap="butt"/>
<line x1="65.26" y1="991.53" x2="49.92" y2="976.18" stroke="#231f20" stroke-width="1.5" stroke-linecap="butt"/>
<line x1="49.92" y1="976.18" x2="55.54" y2="955.22" stroke="#231f20" stroke-width="1.5" stroke-linecap="butt"/>
<line x1="55.54" y1="955.22" x2="76.50" y2="949.61" stroke="#231f20" stroke-width="1.5" stroke-linecap="butt"/>
<line x1="59.90" y1="958.09" x2="74.15" y2="954.27" stroke="#231f20" stroke-width="1.5" stroke-linecap="butt"/>
<line x1="87.18" y1="967.30" x2="83.36" y2="981.55" stroke="#231f20" stroke-width="1.5" stroke-linecap="butt"/>
<line x1="65.57" y1="986.32" x2="55.13" y2="975.88" stroke="#231f20" stroke-width="1.5" stroke-linecap="butt"/>
<text x="79.3" y="886.1" font-size="16.5" font-weight="bold" fill="#2e3192" text-anchor="middle">N</text>
<text x="102.0" y="928.3" font-size="16.5" font-weight="bold" fill="#2e3192" text-anchor="middle">N</text>
<text x="111.6" y="871.2" font-size="16.5" font-weight="bold" fill="#d2232a" text-anchor="middle">O</text>
<line x1="26.81" y1="915.45" x2="22.86" y2="917.73" stroke="#231f20" stroke-width="1.5" stroke-linecap="butt"/>
<line x1="22.86" y1="917.73" x2="18.91" y2="920.01" stroke="#3d9a48" stroke-width="1.5" stroke-linecap="butt"/>
<text x="8.1" y="932.0" font-size="16.5" font-weight="bold" fill="#3d9a48" text-anchor="middle">Cl</text>
<text x="80.6" y="864.3" font-size="16.5" font-weight="bold" fill="#231f20" text-anchor="end">H<tspan font-size="11.5" dy="4.9">3</tspan><tspan dy="-4.9">C</tspan></text>
<circle cx="77.3" cy="868.9" r="0.8" fill="#231f20"/>
<line x1="19.20" y1="843.40" x2="33.66" y2="849.33" stroke="#231f20" stroke-width="2.0" stroke-linecap="butt"/>
<path d="M44.3,853.7 L29.1,853.8 L33.7,849.3 L33.6,843.0 Z" fill="#231f20"/>
<line x1="198.60" y1="896.90" x2="217.22" y2="907.65" stroke="#231f20" stroke-width="1.5" stroke-linecap="butt"/>
<line x1="217.22" y1="907.65" x2="217.22" y2="929.15" stroke="#231f20" stroke-width="1.5" stroke-linecap="butt"/>
<line x1="217.22" y1="929.15" x2="198.60" y2="939.90" stroke="#231f20" stroke-width="1.5" stroke-linecap="butt"/>
<line x1="198.60" y1="939.90" x2="179.98" y2="929.15" stroke="#231f20" stroke-width="1.5" stroke-linecap="butt"/>
<line x1="179.98" y1="929.15" x2="179.98" y2="907.65" stroke="#231f20" stroke-width="1.5" stroke-linecap="butt"/>
<line x1="179.98" y1="907.65" x2="198.60" y2="896.90" stroke="#231f20" stroke-width="1.5" stroke-linecap="butt"/>
<line x1="184.91" y1="909.31" x2="197.57" y2="902.00" stroke="#231f20" stroke-width="1.5" stroke-linecap="butt"/>
<line x1="213.32" y1="911.09" x2="213.32" y2="925.71" stroke="#231f20" stroke-width="1.5" stroke-linecap="butt"/>
<line x1="184.91" y1="927.49" x2="197.57" y2="934.80" stroke="#231f20" stroke-width="1.5" stroke-linecap="butt"/>
<line x1="217.22" y1="907.65" x2="220.84" y2="904.41" stroke="#231f20" stroke-width="1.5" stroke-linecap="butt"/>
<line x1="220.84" y1="904.41" x2="224.46" y2="901.17" stroke="#2e3192" stroke-width="1.5" stroke-linecap="butt"/>
<line x1="241.98" y1="895.97" x2="248.13" y2="896.92" stroke="#2e3192" stroke-width="1.5" stroke-linecap="butt"/>
<line x1="248.13" y1="896.92" x2="254.28" y2="897.87" stroke="#231f20" stroke-width="1.5" stroke-linecap="butt"/>
<line x1="254.28" y1="897.87" x2="262.99" y2="917.39" stroke="#231f20" stroke-width="1.5" stroke-linecap="butt"/>
<line x1="262.99" y1="917.39" x2="260.82" y2="922.21" stroke="#231f20" stroke-width="1.5" stroke-linecap="butt"/>
<line x1="260.82" y1="922.21" x2="258.65" y2="927.03" stroke="#2e3192" stroke-width="1.5" stroke-linecap="butt"/>
<line x1="244.66" y1="938.55" x2="239.48" y2="939.76" stroke="#2e3192" stroke-width="1.5" stroke-linecap="butt"/>
<line x1="239.48" y1="939.76" x2="234.29" y2="940.98" stroke="#231f20" stroke-width="1.5" stroke-linecap="butt"/>
<line x1="234.59" y1="937.00" x2="243.21" y2="934.98" stroke="#231f20" stroke-width="1.5" stroke-linecap="butt"/>
<line x1="234.29" y1="940.98" x2="217.22" y2="929.15" stroke="#231f20" stroke-width="1.5" stroke-linecap="butt"/>
<line x1="254.28" y1="897.87" x2="257.00" y2="892.77" stroke="#231f20" stroke-width="1.5" stroke-linecap="butt"/>
<line x1="257.00" y1="892.77" x2="259.72" y2="887.67" stroke="#d2232a" stroke-width="1.5" stroke-linecap="butt"/>
<line x1="258.40" y1="897.79" x2="260.65" y2="893.58" stroke="#231f20" stroke-width="1.5" stroke-linecap="butt"/>
<line x1="260.65" y1="893.58" x2="262.89" y2="889.36" stroke="#d2232a" stroke-width="1.5" stroke-linecap="butt"/>
<line x1="234.29" y1="940.98" x2="228.71" y2="959.99" stroke="#231f20" stroke-width="1.5" stroke-linecap="butt"/>
<line x1="228.71" y1="959.99" x2="243.91" y2="975.20" stroke="#231f20" stroke-width="1.5" stroke-linecap="butt"/>
<line x1="243.91" y1="975.20" x2="238.35" y2="995.96" stroke="#231f20" stroke-width="1.5" stroke-linecap="butt"/>
<line x1="238.35" y1="995.96" x2="217.58" y2="1001.53" stroke="#231f20" stroke-width="1.5" stroke-linecap="butt"/>
<line x1="217.58" y1="1001.53" x2="202.38" y2="986.32" stroke="#231f20" stroke-width="1.5" stroke-linecap="butt"/>
<line x1="202.38" y1="986.32" x2="207.94" y2="965.56" stroke="#231f20" stroke-width="1.5" stroke-linecap="butt"/>
<line x1="207.94" y1="965.56" x2="228.71" y2="959.99" stroke="#231f20" stroke-width="1.5" stroke-linecap="butt"/>
<line x1="212.28" y1="968.43" x2="226.40" y2="964.65" stroke="#231f20" stroke-width="1.5" stroke-linecap="butt"/>
<line x1="239.26" y1="977.51" x2="235.47" y2="991.63" stroke="#231f20" stroke-width="1.5" stroke-linecap="butt"/>
<line x1="217.91" y1="996.34" x2="207.57" y2="986.00" stroke="#231f20" stroke-width="1.5" stroke-linecap="butt"/>
<text x="232.0" y="900.0" font-size="16.3" font-weight="bold" fill="#2e3192" text-anchor="middle">N</text>
<text x="254.5" y="941.9" font-size="16.3" font-weight="bold" fill="#2e3192" text-anchor="middle">N</text>
<text x="264.0" y="885.3" font-size="16.3" font-weight="bold" fill="#d2232a" text-anchor="middle">O</text>
<line x1="179.98" y1="929.15" x2="175.79" y2="931.57" stroke="#231f20" stroke-width="1.5" stroke-linecap="butt"/>
<line x1="175.79" y1="931.57" x2="171.60" y2="933.99" stroke="#2e3192" stroke-width="1.5" stroke-linecap="butt"/>
<text x="162.5" y="943.6" font-size="16.3" font-weight="bold" fill="#2e3192" text-anchor="middle">N</text>
<text x="166.6" y="933.5" font-size="11" text-anchor="middle" fill="#2e3192" font-weight="bold">+</text>
<text x="148.0" y="929.1" font-size="16.3" font-weight="bold" fill="#d2232a" text-anchor="middle">O</text>
<rect x="153.9" y="916.7" width="7" height="1.5" fill="#d2232a"/>
<text x="163.0" y="964.1" font-size="16.3" font-weight="bold" fill="#d2232a" text-anchor="middle">O</text>
<circle cx="155.7" cy="930.5" r="0.7" fill="#231f20"/><circle cx="160.7" cy="948.5" r="0.7" fill="#231f20"/><circle cx="164.4" cy="948.5" r="0.7" fill="#231f20"/>
<line x1="243.91" y1="975.20" x2="248.59" y2="973.94" stroke="#231f20" stroke-width="1.5" stroke-linecap="butt"/>
<line x1="248.59" y1="973.94" x2="253.26" y2="972.69" stroke="#8a6a28" stroke-width="1.5" stroke-linecap="butt"/>
<text x="262.8" y="975.3" font-size="16.3" font-weight="bold" fill="#8a6a28" text-anchor="middle">F</text>
<text x="231.6" y="879.2" font-size="16.3" font-weight="bold" fill="#231f20" text-anchor="end">H<tspan font-size="11.4" dy="4.9">3</tspan><tspan dy="-4.9">C</tspan></text>
<circle cx="230.0" cy="883.4" r="0.8" fill="#231f20"/>
<line x1="175.00" y1="854.60" x2="188.73" y2="860.11" stroke="#231f20" stroke-width="2.0" stroke-linecap="butt"/>
<path d="M199.4,864.4 L184.2,864.6 L188.7,860.1 L188.6,853.8 Z" fill="#231f20"/>
<line x1="355.40" y1="862.60" x2="376.62" y2="874.85" stroke="#231f20" stroke-width="1.5" stroke-linecap="butt"/>
<line x1="376.62" y1="874.85" x2="376.62" y2="899.35" stroke="#231f20" stroke-width="1.5" stroke-linecap="butt"/>
<line x1="376.62" y1="899.35" x2="355.40" y2="911.60" stroke="#231f20" stroke-width="1.5" stroke-linecap="butt"/>
<line x1="355.40" y1="911.60" x2="334.18" y2="899.35" stroke="#231f20" stroke-width="1.5" stroke-linecap="butt"/>
<line x1="334.18" y1="899.35" x2="334.18" y2="874.85" stroke="#231f20" stroke-width="1.5" stroke-linecap="butt"/>
<line x1="334.18" y1="874.85" x2="355.40" y2="862.60" stroke="#231f20" stroke-width="1.5" stroke-linecap="butt"/>
<line x1="339.53" y1="876.27" x2="353.96" y2="867.94" stroke="#231f20" stroke-width="1.5" stroke-linecap="butt"/>
<line x1="372.72" y1="878.77" x2="372.72" y2="895.43" stroke="#231f20" stroke-width="1.5" stroke-linecap="butt"/>
<line x1="339.53" y1="897.93" x2="353.96" y2="906.26" stroke="#231f20" stroke-width="1.5" stroke-linecap="butt"/>
<line x1="376.62" y1="874.85" x2="380.74" y2="871.16" stroke="#231f20" stroke-width="1.5" stroke-linecap="butt"/>
<line x1="380.74" y1="871.16" x2="384.87" y2="867.46" stroke="#2e3192" stroke-width="1.5" stroke-linecap="butt"/>
<line x1="404.83" y1="861.54" x2="411.84" y2="862.62" stroke="#2e3192" stroke-width="1.5" stroke-linecap="butt"/>
<line x1="411.84" y1="862.62" x2="418.85" y2="863.70" stroke="#231f20" stroke-width="1.5" stroke-linecap="butt"/>
<line x1="418.85" y1="863.70" x2="428.78" y2="885.95" stroke="#231f20" stroke-width="1.5" stroke-linecap="butt"/>
<line x1="428.78" y1="885.95" x2="426.30" y2="891.44" stroke="#231f20" stroke-width="1.5" stroke-linecap="butt"/>
<line x1="426.30" y1="891.44" x2="423.83" y2="896.94" stroke="#2e3192" stroke-width="1.5" stroke-linecap="butt"/>
<line x1="407.89" y1="910.06" x2="401.98" y2="911.44" stroke="#2e3192" stroke-width="1.5" stroke-linecap="butt"/>
<line x1="401.98" y1="911.44" x2="396.07" y2="912.83" stroke="#231f20" stroke-width="1.5" stroke-linecap="butt"/>
<line x1="396.37" y1="908.85" x2="406.44" y2="906.50" stroke="#231f20" stroke-width="1.5" stroke-linecap="butt"/>
<line x1="396.07" y1="912.83" x2="376.62" y2="899.35" stroke="#231f20" stroke-width="1.5" stroke-linecap="butt"/>
<line x1="418.85" y1="863.70" x2="421.95" y2="857.89" stroke="#231f20" stroke-width="1.5" stroke-linecap="butt"/>
<line x1="421.95" y1="857.89" x2="425.04" y2="852.08" stroke="#d2232a" stroke-width="1.5" stroke-linecap="butt"/>
<line x1="422.97" y1="863.63" x2="425.60" y2="858.70" stroke="#231f20" stroke-width="1.5" stroke-linecap="butt"/>
<line x1="425.60" y1="858.70" x2="428.22" y2="853.77" stroke="#d2232a" stroke-width="1.5" stroke-linecap="butt"/>
<line x1="396.07" y1="912.83" x2="390.28" y2="937.91" stroke="#231f20" stroke-width="1.5" stroke-linecap="butt"/>
<line x1="390.28" y1="937.91" x2="407.61" y2="955.24" stroke="#231f20" stroke-width="1.5" stroke-linecap="butt"/>
<line x1="407.61" y1="955.24" x2="401.27" y2="978.90" stroke="#231f20" stroke-width="1.5" stroke-linecap="butt"/>
<line x1="401.27" y1="978.90" x2="377.60" y2="985.25" stroke="#231f20" stroke-width="1.5" stroke-linecap="butt"/>
<line x1="377.60" y1="985.25" x2="360.28" y2="967.92" stroke="#231f20" stroke-width="1.5" stroke-linecap="butt"/>
<line x1="360.28" y1="967.92" x2="366.62" y2="944.26" stroke="#231f20" stroke-width="1.5" stroke-linecap="butt"/>
<line x1="366.62" y1="944.26" x2="390.28" y2="937.91" stroke="#231f20" stroke-width="1.5" stroke-linecap="butt"/>
<line x1="371.41" y1="947.01" x2="387.51" y2="942.70" stroke="#231f20" stroke-width="1.5" stroke-linecap="butt"/>
<line x1="402.83" y1="958.02" x2="398.51" y2="974.11" stroke="#231f20" stroke-width="1.5" stroke-linecap="butt"/>
<line x1="377.59" y1="979.72" x2="365.81" y2="967.94" stroke="#231f20" stroke-width="1.5" stroke-linecap="butt"/>
<text x="393.4" y="866.2" font-size="18.6" font-weight="bold" fill="#2e3192" text-anchor="middle">N</text>
<text x="419.1" y="913.8" font-size="18.6" font-weight="bold" fill="#2e3192" text-anchor="middle">N</text>
<text x="429.9" y="849.4" font-size="18.6" font-weight="bold" fill="#d2232a" text-anchor="middle">O</text>
<line x1="334.18" y1="899.35" x2="329.73" y2="901.92" stroke="#231f20" stroke-width="1.5" stroke-linecap="butt"/>
<line x1="329.73" y1="901.92" x2="325.27" y2="904.50" stroke="#3d9a48" stroke-width="1.5" stroke-linecap="butt"/>
<text x="313.0" y="918.0" font-size="18.6" font-weight="bold" fill="#3d9a48" text-anchor="middle">Cl</text>
<line x1="377.60" y1="985.25" x2="376.17" y2="990.57" stroke="#231f20" stroke-width="1.5" stroke-linecap="butt"/>
<line x1="376.17" y1="990.57" x2="374.75" y2="995.90" stroke="#3d9a48" stroke-width="1.5" stroke-linecap="butt"/>
<text x="370.8" y="1015.4" font-size="18.6" font-weight="bold" fill="#3d9a48" text-anchor="middle">Cl</text>
<text x="394.0" y="841.9" font-size="18.6" font-weight="bold" fill="#231f20" text-anchor="end">H<tspan font-size="13.0" dy="5.6">3</tspan><tspan dy="-5.6">C</tspan></text>
<circle cx="391.4" cy="846.9" r="0.8" fill="#231f20"/>
<line x1="328.10" y1="824.40" x2="342.37" y2="830.30" stroke="#231f20" stroke-width="2.0" stroke-linecap="butt"/>
<path d="M353.0,834.7 L337.8,834.7 L342.4,830.3 L342.3,824.0 Z" fill="#231f20"/>
</svg></body></html>
